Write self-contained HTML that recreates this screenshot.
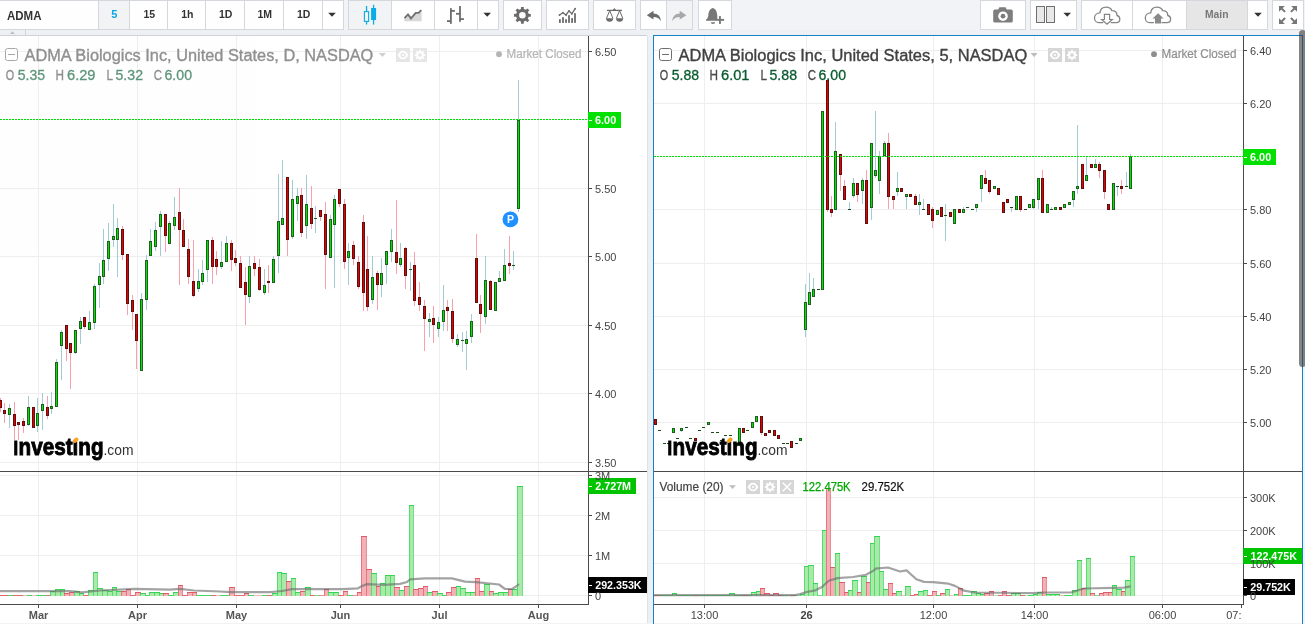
<!DOCTYPE html>
<html><head><meta charset="utf-8"><title>ADMA</title>
<style>
html,body{margin:0;padding:0;background:#f1f3f7;overflow:hidden}
body{width:1305px;height:624px;position:relative;font-family:"Liberation Sans",sans-serif}
svg{position:absolute;left:0;top:0;display:block;opacity:0.999;will-change:transform}
svg text{font-family:"Liberation Sans",sans-serif}
</style></head><body>
<svg width="1305" height="624" viewBox="0 0 1305 624" shape-rendering="crispEdges">
<rect x="0" y="0" width="1305" height="624" fill="#f1f3f7"/>
<rect x="0" y="36" width="647" height="587" fill="#fff"/>
<rect x="654" y="36" width="649" height="587" fill="#fff"/>
<rect x="647" y="36" width="6" height="587" fill="#eceff4"/>
<rect x="647" y="36" width="1" height="587" fill="#dde1e8"/>
<rect x="653" y="35" width="650" height="1" fill="#1581c4"/>
<rect x="653" y="35" width="1" height="589" fill="#1581c4"/>
<rect x="1302" y="35" width="1" height="589" fill="#1581c4"/>
<rect x="1303" y="35" width="2" height="589" fill="#f1f3f7"/>
<rect x="0" y="35" width="647" height="1" fill="#cdd2da"/>
<rect x="0" y="51" width="588" height="1" fill="#eeeeee"/>
<rect x="0" y="119" width="588" height="1" fill="#eeeeee"/>
<rect x="0" y="188" width="588" height="1" fill="#eeeeee"/>
<rect x="0" y="256" width="588" height="1" fill="#eeeeee"/>
<rect x="0" y="325" width="588" height="1" fill="#eeeeee"/>
<rect x="0" y="393" width="588" height="1" fill="#eeeeee"/>
<rect x="0" y="462" width="588" height="1" fill="#eeeeee"/>
<rect x="0" y="475" width="588" height="1" fill="#eeeeee"/>
<rect x="0" y="515" width="588" height="1" fill="#eeeeee"/>
<rect x="0" y="555" width="588" height="1" fill="#eeeeee"/>
<rect x="0" y="595" width="588" height="1" fill="#eeeeee"/>
<rect x="38" y="36" width="1" height="435" fill="#eeeeee"/>
<rect x="38" y="472" width="1" height="132" fill="#eeeeee"/>
<rect x="137" y="36" width="1" height="435" fill="#eeeeee"/>
<rect x="137" y="472" width="1" height="132" fill="#eeeeee"/>
<rect x="236" y="36" width="1" height="435" fill="#eeeeee"/>
<rect x="236" y="472" width="1" height="132" fill="#eeeeee"/>
<rect x="340" y="36" width="1" height="435" fill="#eeeeee"/>
<rect x="340" y="472" width="1" height="132" fill="#eeeeee"/>
<rect x="439" y="36" width="1" height="435" fill="#eeeeee"/>
<rect x="439" y="472" width="1" height="132" fill="#eeeeee"/>
<rect x="538" y="36" width="1" height="435" fill="#eeeeee"/>
<rect x="538" y="472" width="1" height="132" fill="#eeeeee"/>
<rect x="654" y="50" width="589" height="1" fill="#eeeeee"/>
<rect x="654" y="103" width="589" height="1" fill="#eeeeee"/>
<rect x="654" y="156" width="589" height="1" fill="#eeeeee"/>
<rect x="654" y="209" width="589" height="1" fill="#eeeeee"/>
<rect x="654" y="263" width="589" height="1" fill="#eeeeee"/>
<rect x="654" y="316" width="589" height="1" fill="#eeeeee"/>
<rect x="654" y="369" width="589" height="1" fill="#eeeeee"/>
<rect x="654" y="422" width="589" height="1" fill="#eeeeee"/>
<rect x="654" y="497" width="589" height="1" fill="#eeeeee"/>
<rect x="654" y="530" width="589" height="1" fill="#eeeeee"/>
<rect x="654" y="563" width="589" height="1" fill="#eeeeee"/>
<rect x="654" y="595" width="589" height="1" fill="#eeeeee"/>
<rect x="704" y="36" width="1" height="435" fill="#eeeeee"/>
<rect x="704" y="472" width="1" height="132" fill="#eeeeee"/>
<rect x="806" y="36" width="1" height="435" fill="#eeeeee"/>
<rect x="806" y="472" width="1" height="132" fill="#eeeeee"/>
<rect x="933" y="36" width="1" height="435" fill="#eeeeee"/>
<rect x="933" y="472" width="1" height="132" fill="#eeeeee"/>
<rect x="1034" y="36" width="1" height="435" fill="#eeeeee"/>
<rect x="1034" y="472" width="1" height="132" fill="#eeeeee"/>
<rect x="1162" y="36" width="1" height="435" fill="#eeeeee"/>
<rect x="1162" y="472" width="1" height="132" fill="#eeeeee"/>
<rect x="-2" y="595" width="6" height="1" fill="#de5c69" opacity="0.9"/>
<rect x="3" y="595" width="6" height="1" fill="#de5c69" opacity="0.9"/>
<rect x="8" y="595" width="6" height="1" fill="#35d455" opacity="0.9"/>
<rect x="13" y="595" width="5" height="1" fill="#de5c69" opacity="0.9"/>
<rect x="17" y="595" width="6" height="1" fill="#de5c69" opacity="0.9"/>
<rect x="22" y="595" width="6" height="1" fill="#de5c69" opacity="0.3"/>
<rect x="27" y="595" width="5" height="1" fill="#35d455" opacity="0.9"/>
<rect x="31" y="595" width="6" height="1" fill="#de5c69" opacity="0.3"/>
<rect x="36" y="595" width="6" height="1" fill="#35d455" opacity="0.9"/>
<rect x="41" y="595" width="6" height="1" fill="#35d455" opacity="0.9"/>
<rect x="46" y="595" width="5" height="1" fill="#de5c69" opacity="0.9"/>
<rect x="50" y="591" width="5" height="5" fill="#a9eaa9"/>
<rect x="50" y="591" width="6" height="1" fill="#35d455"/>
<rect x="50" y="591" width="1" height="5" fill="#35d455" opacity="0.7"/>
<rect x="55" y="591" width="1" height="5" fill="#35d455" opacity="0.7"/>
<rect x="55" y="589" width="5" height="7" fill="#a9eaa9"/>
<rect x="55" y="589" width="6" height="1" fill="#35d455"/>
<rect x="55" y="589" width="1" height="7" fill="#35d455" opacity="0.7"/>
<rect x="60" y="589" width="1" height="7" fill="#35d455" opacity="0.7"/>
<rect x="60" y="589" width="4" height="7" fill="#a9eaa9"/>
<rect x="60" y="589" width="5" height="1" fill="#35d455"/>
<rect x="60" y="589" width="1" height="7" fill="#35d455" opacity="0.7"/>
<rect x="64" y="589" width="1" height="7" fill="#35d455" opacity="0.7"/>
<rect x="64" y="593" width="5" height="3" fill="#f3b1b6"/>
<rect x="64" y="593" width="6" height="1" fill="#de5c69"/>
<rect x="64" y="593" width="1" height="3" fill="#de5c69" opacity="0.7"/>
<rect x="69" y="593" width="1" height="3" fill="#de5c69" opacity="0.7"/>
<rect x="69" y="592" width="5" height="4" fill="#f3b1b6"/>
<rect x="69" y="592" width="6" height="1" fill="#de5c69"/>
<rect x="69" y="592" width="1" height="4" fill="#de5c69" opacity="0.7"/>
<rect x="74" y="592" width="1" height="4" fill="#de5c69" opacity="0.7"/>
<rect x="74" y="591" width="5" height="5" fill="#a9eaa9"/>
<rect x="74" y="591" width="6" height="1" fill="#35d455"/>
<rect x="74" y="591" width="1" height="5" fill="#35d455" opacity="0.7"/>
<rect x="79" y="591" width="1" height="5" fill="#35d455" opacity="0.7"/>
<rect x="79" y="593" width="4" height="3" fill="#a9eaa9"/>
<rect x="79" y="593" width="5" height="1" fill="#35d455"/>
<rect x="79" y="593" width="1" height="3" fill="#35d455" opacity="0.7"/>
<rect x="83" y="593" width="1" height="3" fill="#35d455" opacity="0.7"/>
<rect x="83" y="595" width="6" height="1" fill="#de5c69" opacity="0.9"/>
<rect x="88" y="590" width="5" height="6" fill="#a9eaa9"/>
<rect x="88" y="590" width="6" height="1" fill="#35d455"/>
<rect x="88" y="590" width="1" height="6" fill="#35d455" opacity="0.7"/>
<rect x="93" y="590" width="1" height="6" fill="#35d455" opacity="0.7"/>
<rect x="93" y="572" width="4" height="24" fill="#a9eaa9"/>
<rect x="93" y="572" width="5" height="1" fill="#35d455"/>
<rect x="93" y="572" width="1" height="24" fill="#35d455" opacity="0.7"/>
<rect x="97" y="572" width="1" height="24" fill="#35d455" opacity="0.7"/>
<rect x="97" y="588" width="5" height="8" fill="#a9eaa9"/>
<rect x="97" y="588" width="6" height="1" fill="#35d455"/>
<rect x="97" y="588" width="1" height="8" fill="#35d455" opacity="0.7"/>
<rect x="102" y="588" width="1" height="8" fill="#35d455" opacity="0.7"/>
<rect x="102" y="590" width="5" height="6" fill="#a9eaa9"/>
<rect x="102" y="590" width="6" height="1" fill="#35d455"/>
<rect x="102" y="590" width="1" height="6" fill="#35d455" opacity="0.7"/>
<rect x="107" y="590" width="1" height="6" fill="#35d455" opacity="0.7"/>
<rect x="107" y="591" width="5" height="5" fill="#a9eaa9"/>
<rect x="107" y="591" width="6" height="1" fill="#35d455"/>
<rect x="107" y="591" width="1" height="5" fill="#35d455" opacity="0.7"/>
<rect x="112" y="591" width="1" height="5" fill="#35d455" opacity="0.7"/>
<rect x="112" y="587" width="4" height="9" fill="#a9eaa9"/>
<rect x="112" y="587" width="5" height="1" fill="#35d455"/>
<rect x="112" y="587" width="1" height="9" fill="#35d455" opacity="0.7"/>
<rect x="116" y="587" width="1" height="9" fill="#35d455" opacity="0.7"/>
<rect x="116" y="591" width="5" height="5" fill="#a9eaa9"/>
<rect x="116" y="591" width="6" height="1" fill="#35d455"/>
<rect x="116" y="591" width="1" height="5" fill="#35d455" opacity="0.7"/>
<rect x="121" y="591" width="1" height="5" fill="#35d455" opacity="0.7"/>
<rect x="121" y="591" width="5" height="5" fill="#f3b1b6"/>
<rect x="121" y="591" width="6" height="1" fill="#de5c69"/>
<rect x="121" y="591" width="1" height="5" fill="#de5c69" opacity="0.7"/>
<rect x="126" y="591" width="1" height="5" fill="#de5c69" opacity="0.7"/>
<rect x="126" y="589" width="4" height="7" fill="#f3b1b6"/>
<rect x="126" y="589" width="5" height="1" fill="#de5c69"/>
<rect x="126" y="589" width="1" height="7" fill="#de5c69" opacity="0.7"/>
<rect x="130" y="589" width="1" height="7" fill="#de5c69" opacity="0.7"/>
<rect x="130" y="595" width="6" height="1" fill="#de5c69" opacity="0.9"/>
<rect x="135" y="592" width="5" height="4" fill="#f3b1b6"/>
<rect x="135" y="592" width="6" height="1" fill="#de5c69"/>
<rect x="135" y="592" width="1" height="4" fill="#de5c69" opacity="0.7"/>
<rect x="140" y="592" width="1" height="4" fill="#de5c69" opacity="0.7"/>
<rect x="140" y="593" width="5" height="3" fill="#a9eaa9"/>
<rect x="140" y="593" width="6" height="1" fill="#35d455"/>
<rect x="140" y="593" width="1" height="3" fill="#35d455" opacity="0.7"/>
<rect x="145" y="593" width="1" height="3" fill="#35d455" opacity="0.7"/>
<rect x="145" y="595" width="5" height="1" fill="#35d455" opacity="0.9"/>
<rect x="149" y="592" width="5" height="4" fill="#a9eaa9"/>
<rect x="149" y="592" width="6" height="1" fill="#35d455"/>
<rect x="149" y="592" width="1" height="4" fill="#35d455" opacity="0.7"/>
<rect x="154" y="592" width="1" height="4" fill="#35d455" opacity="0.7"/>
<rect x="154" y="592" width="5" height="4" fill="#a9eaa9"/>
<rect x="154" y="592" width="6" height="1" fill="#35d455"/>
<rect x="154" y="592" width="1" height="4" fill="#35d455" opacity="0.7"/>
<rect x="159" y="592" width="1" height="4" fill="#35d455" opacity="0.7"/>
<rect x="159" y="593" width="4" height="3" fill="#a9eaa9"/>
<rect x="159" y="593" width="5" height="1" fill="#35d455"/>
<rect x="159" y="593" width="1" height="3" fill="#35d455" opacity="0.7"/>
<rect x="163" y="593" width="1" height="3" fill="#35d455" opacity="0.7"/>
<rect x="163" y="593" width="5" height="3" fill="#f3b1b6"/>
<rect x="163" y="593" width="6" height="1" fill="#de5c69"/>
<rect x="163" y="593" width="1" height="3" fill="#de5c69" opacity="0.7"/>
<rect x="168" y="593" width="1" height="3" fill="#de5c69" opacity="0.7"/>
<rect x="168" y="595" width="6" height="1" fill="#35d455" opacity="0.9"/>
<rect x="173" y="592" width="5" height="4" fill="#a9eaa9"/>
<rect x="173" y="592" width="6" height="1" fill="#35d455"/>
<rect x="173" y="592" width="1" height="4" fill="#35d455" opacity="0.7"/>
<rect x="178" y="592" width="1" height="4" fill="#35d455" opacity="0.7"/>
<rect x="178" y="585" width="4" height="11" fill="#f3b1b6"/>
<rect x="178" y="585" width="5" height="1" fill="#de5c69"/>
<rect x="178" y="585" width="1" height="11" fill="#de5c69" opacity="0.7"/>
<rect x="182" y="585" width="1" height="11" fill="#de5c69" opacity="0.7"/>
<rect x="182" y="595" width="6" height="1" fill="#de5c69" opacity="0.9"/>
<rect x="187" y="592" width="5" height="4" fill="#f3b1b6"/>
<rect x="187" y="592" width="6" height="1" fill="#de5c69"/>
<rect x="187" y="592" width="1" height="4" fill="#de5c69" opacity="0.7"/>
<rect x="192" y="592" width="1" height="4" fill="#de5c69" opacity="0.7"/>
<rect x="192" y="592" width="4" height="4" fill="#f3b1b6"/>
<rect x="192" y="592" width="5" height="1" fill="#de5c69"/>
<rect x="192" y="592" width="1" height="4" fill="#de5c69" opacity="0.7"/>
<rect x="196" y="592" width="1" height="4" fill="#de5c69" opacity="0.7"/>
<rect x="196" y="595" width="6" height="1" fill="#35d455" opacity="0.9"/>
<rect x="201" y="595" width="6" height="1" fill="#35d455" opacity="0.9"/>
<rect x="206" y="595" width="6" height="1" fill="#35d455" opacity="0.9"/>
<rect x="211" y="595" width="5" height="1" fill="#de5c69" opacity="0.9"/>
<rect x="215" y="595" width="6" height="1" fill="#de5c69" opacity="0.3"/>
<rect x="220" y="595" width="6" height="1" fill="#35d455" opacity="0.9"/>
<rect x="225" y="595" width="5" height="1" fill="#35d455" opacity="0.9"/>
<rect x="229" y="587" width="5" height="9" fill="#f3b1b6"/>
<rect x="229" y="587" width="6" height="1" fill="#de5c69"/>
<rect x="229" y="587" width="1" height="9" fill="#de5c69" opacity="0.7"/>
<rect x="234" y="587" width="1" height="9" fill="#de5c69" opacity="0.7"/>
<rect x="234" y="595" width="6" height="1" fill="#de5c69" opacity="0.9"/>
<rect x="239" y="595" width="6" height="1" fill="#de5c69" opacity="0.9"/>
<rect x="244" y="593" width="4" height="3" fill="#f3b1b6"/>
<rect x="244" y="593" width="5" height="1" fill="#de5c69"/>
<rect x="244" y="593" width="1" height="3" fill="#de5c69" opacity="0.7"/>
<rect x="248" y="593" width="1" height="3" fill="#de5c69" opacity="0.7"/>
<rect x="248" y="595" width="6" height="1" fill="#35d455" opacity="0.9"/>
<rect x="253" y="595" width="6" height="1" fill="#de5c69" opacity="0.3"/>
<rect x="258" y="595" width="5" height="1" fill="#de5c69" opacity="0.3"/>
<rect x="262" y="595" width="6" height="1" fill="#35d455" opacity="0.9"/>
<rect x="267" y="595" width="6" height="1" fill="#de5c69" opacity="0.9"/>
<rect x="272" y="593" width="5" height="3" fill="#a9eaa9"/>
<rect x="272" y="593" width="6" height="1" fill="#35d455"/>
<rect x="272" y="593" width="1" height="3" fill="#35d455" opacity="0.7"/>
<rect x="277" y="593" width="1" height="3" fill="#35d455" opacity="0.7"/>
<rect x="277" y="572" width="4" height="24" fill="#a9eaa9"/>
<rect x="277" y="572" width="5" height="1" fill="#35d455"/>
<rect x="277" y="572" width="1" height="24" fill="#35d455" opacity="0.7"/>
<rect x="281" y="572" width="1" height="24" fill="#35d455" opacity="0.7"/>
<rect x="281" y="573" width="5" height="23" fill="#a9eaa9"/>
<rect x="281" y="573" width="6" height="1" fill="#35d455"/>
<rect x="281" y="573" width="1" height="23" fill="#35d455" opacity="0.7"/>
<rect x="286" y="573" width="1" height="23" fill="#35d455" opacity="0.7"/>
<rect x="286" y="581" width="5" height="15" fill="#f3b1b6"/>
<rect x="286" y="581" width="6" height="1" fill="#de5c69"/>
<rect x="286" y="581" width="1" height="15" fill="#de5c69" opacity="0.7"/>
<rect x="291" y="581" width="1" height="15" fill="#de5c69" opacity="0.7"/>
<rect x="291" y="578" width="4" height="18" fill="#a9eaa9"/>
<rect x="291" y="578" width="5" height="1" fill="#35d455"/>
<rect x="291" y="578" width="1" height="18" fill="#35d455" opacity="0.7"/>
<rect x="295" y="578" width="1" height="18" fill="#35d455" opacity="0.7"/>
<rect x="295" y="592" width="5" height="4" fill="#a9eaa9"/>
<rect x="295" y="592" width="6" height="1" fill="#35d455"/>
<rect x="295" y="592" width="1" height="4" fill="#35d455" opacity="0.7"/>
<rect x="300" y="592" width="1" height="4" fill="#35d455" opacity="0.7"/>
<rect x="300" y="591" width="5" height="5" fill="#f3b1b6"/>
<rect x="300" y="591" width="6" height="1" fill="#de5c69"/>
<rect x="300" y="591" width="1" height="5" fill="#de5c69" opacity="0.7"/>
<rect x="305" y="591" width="1" height="5" fill="#de5c69" opacity="0.7"/>
<rect x="305" y="587" width="5" height="9" fill="#a9eaa9"/>
<rect x="305" y="587" width="6" height="1" fill="#35d455"/>
<rect x="305" y="587" width="1" height="9" fill="#35d455" opacity="0.7"/>
<rect x="310" y="587" width="1" height="9" fill="#35d455" opacity="0.7"/>
<rect x="310" y="595" width="5" height="1" fill="#de5c69" opacity="0.9"/>
<rect x="314" y="595" width="6" height="1" fill="#35d455" opacity="0.6"/>
<rect x="319" y="595" width="6" height="1" fill="#de5c69" opacity="0.6"/>
<rect x="324" y="589" width="4" height="7" fill="#f3b1b6"/>
<rect x="324" y="589" width="5" height="1" fill="#de5c69"/>
<rect x="324" y="589" width="1" height="7" fill="#de5c69" opacity="0.7"/>
<rect x="328" y="589" width="1" height="7" fill="#de5c69" opacity="0.7"/>
<rect x="328" y="592" width="5" height="4" fill="#a9eaa9"/>
<rect x="328" y="592" width="6" height="1" fill="#35d455"/>
<rect x="328" y="592" width="1" height="4" fill="#35d455" opacity="0.7"/>
<rect x="333" y="592" width="1" height="4" fill="#35d455" opacity="0.7"/>
<rect x="333" y="592" width="5" height="4" fill="#a9eaa9"/>
<rect x="333" y="592" width="6" height="1" fill="#35d455"/>
<rect x="333" y="592" width="1" height="4" fill="#35d455" opacity="0.7"/>
<rect x="338" y="592" width="1" height="4" fill="#35d455" opacity="0.7"/>
<rect x="338" y="595" width="6" height="1" fill="#de5c69" opacity="0.9"/>
<rect x="343" y="591" width="4" height="5" fill="#f3b1b6"/>
<rect x="343" y="591" width="5" height="1" fill="#de5c69"/>
<rect x="343" y="591" width="1" height="5" fill="#de5c69" opacity="0.7"/>
<rect x="347" y="591" width="1" height="5" fill="#de5c69" opacity="0.7"/>
<rect x="347" y="595" width="6" height="1" fill="#35d455" opacity="0.9"/>
<rect x="352" y="595" width="6" height="1" fill="#de5c69" opacity="0.6"/>
<rect x="357" y="592" width="4" height="4" fill="#f3b1b6"/>
<rect x="357" y="592" width="5" height="1" fill="#de5c69"/>
<rect x="357" y="592" width="1" height="4" fill="#de5c69" opacity="0.7"/>
<rect x="361" y="592" width="1" height="4" fill="#de5c69" opacity="0.7"/>
<rect x="361" y="536" width="5" height="60" fill="#f3b1b6"/>
<rect x="361" y="536" width="6" height="1" fill="#de5c69"/>
<rect x="361" y="536" width="1" height="60" fill="#de5c69" opacity="0.7"/>
<rect x="366" y="536" width="1" height="60" fill="#de5c69" opacity="0.7"/>
<rect x="366" y="569" width="5" height="27" fill="#f3b1b6"/>
<rect x="366" y="569" width="6" height="1" fill="#de5c69"/>
<rect x="366" y="569" width="1" height="27" fill="#de5c69" opacity="0.7"/>
<rect x="371" y="569" width="1" height="27" fill="#de5c69" opacity="0.7"/>
<rect x="371" y="573" width="5" height="23" fill="#a9eaa9"/>
<rect x="371" y="573" width="6" height="1" fill="#35d455"/>
<rect x="371" y="573" width="1" height="23" fill="#35d455" opacity="0.7"/>
<rect x="376" y="573" width="1" height="23" fill="#35d455" opacity="0.7"/>
<rect x="376" y="586" width="4" height="10" fill="#f3b1b6"/>
<rect x="376" y="586" width="5" height="1" fill="#de5c69"/>
<rect x="376" y="586" width="1" height="10" fill="#de5c69" opacity="0.7"/>
<rect x="380" y="586" width="1" height="10" fill="#de5c69" opacity="0.7"/>
<rect x="380" y="583" width="5" height="13" fill="#a9eaa9"/>
<rect x="380" y="583" width="6" height="1" fill="#35d455"/>
<rect x="380" y="583" width="1" height="13" fill="#35d455" opacity="0.7"/>
<rect x="385" y="583" width="1" height="13" fill="#35d455" opacity="0.7"/>
<rect x="385" y="575" width="5" height="21" fill="#a9eaa9"/>
<rect x="385" y="575" width="6" height="1" fill="#35d455"/>
<rect x="385" y="575" width="1" height="21" fill="#35d455" opacity="0.7"/>
<rect x="390" y="575" width="1" height="21" fill="#35d455" opacity="0.7"/>
<rect x="390" y="575" width="4" height="21" fill="#a9eaa9"/>
<rect x="390" y="575" width="5" height="1" fill="#35d455"/>
<rect x="390" y="575" width="1" height="21" fill="#35d455" opacity="0.7"/>
<rect x="394" y="575" width="1" height="21" fill="#35d455" opacity="0.7"/>
<rect x="394" y="587" width="5" height="9" fill="#f3b1b6"/>
<rect x="394" y="587" width="6" height="1" fill="#de5c69"/>
<rect x="394" y="587" width="1" height="9" fill="#de5c69" opacity="0.7"/>
<rect x="399" y="587" width="1" height="9" fill="#de5c69" opacity="0.7"/>
<rect x="399" y="590" width="5" height="6" fill="#a9eaa9"/>
<rect x="399" y="590" width="6" height="1" fill="#35d455"/>
<rect x="399" y="590" width="1" height="6" fill="#35d455" opacity="0.7"/>
<rect x="404" y="590" width="1" height="6" fill="#35d455" opacity="0.7"/>
<rect x="404" y="586" width="5" height="10" fill="#f3b1b6"/>
<rect x="404" y="586" width="6" height="1" fill="#de5c69"/>
<rect x="404" y="586" width="1" height="10" fill="#de5c69" opacity="0.7"/>
<rect x="409" y="586" width="1" height="10" fill="#de5c69" opacity="0.7"/>
<rect x="409" y="505" width="4" height="91" fill="#a9eaa9"/>
<rect x="409" y="505" width="5" height="1" fill="#35d455"/>
<rect x="409" y="505" width="1" height="91" fill="#35d455" opacity="0.7"/>
<rect x="413" y="505" width="1" height="91" fill="#35d455" opacity="0.7"/>
<rect x="413" y="589" width="5" height="7" fill="#f3b1b6"/>
<rect x="413" y="589" width="6" height="1" fill="#de5c69"/>
<rect x="413" y="589" width="1" height="7" fill="#de5c69" opacity="0.7"/>
<rect x="418" y="589" width="1" height="7" fill="#de5c69" opacity="0.7"/>
<rect x="418" y="588" width="5" height="8" fill="#f3b1b6"/>
<rect x="418" y="588" width="6" height="1" fill="#de5c69"/>
<rect x="418" y="588" width="1" height="8" fill="#de5c69" opacity="0.7"/>
<rect x="423" y="588" width="1" height="8" fill="#de5c69" opacity="0.7"/>
<rect x="423" y="586" width="4" height="10" fill="#f3b1b6"/>
<rect x="423" y="586" width="5" height="1" fill="#de5c69"/>
<rect x="423" y="586" width="1" height="10" fill="#de5c69" opacity="0.7"/>
<rect x="427" y="586" width="1" height="10" fill="#de5c69" opacity="0.7"/>
<rect x="427" y="592" width="5" height="4" fill="#a9eaa9"/>
<rect x="427" y="592" width="6" height="1" fill="#35d455"/>
<rect x="427" y="592" width="1" height="4" fill="#35d455" opacity="0.7"/>
<rect x="432" y="592" width="1" height="4" fill="#35d455" opacity="0.7"/>
<rect x="432" y="591" width="5" height="5" fill="#f3b1b6"/>
<rect x="432" y="591" width="6" height="1" fill="#de5c69"/>
<rect x="432" y="591" width="1" height="5" fill="#de5c69" opacity="0.7"/>
<rect x="437" y="591" width="1" height="5" fill="#de5c69" opacity="0.7"/>
<rect x="437" y="593" width="5" height="3" fill="#a9eaa9"/>
<rect x="437" y="593" width="6" height="1" fill="#35d455"/>
<rect x="437" y="593" width="1" height="3" fill="#35d455" opacity="0.7"/>
<rect x="442" y="593" width="1" height="3" fill="#35d455" opacity="0.7"/>
<rect x="442" y="595" width="5" height="1" fill="#35d455" opacity="0.9"/>
<rect x="446" y="592" width="5" height="4" fill="#f3b1b6"/>
<rect x="446" y="592" width="6" height="1" fill="#de5c69"/>
<rect x="446" y="592" width="1" height="4" fill="#de5c69" opacity="0.7"/>
<rect x="451" y="592" width="1" height="4" fill="#de5c69" opacity="0.7"/>
<rect x="451" y="587" width="5" height="9" fill="#f3b1b6"/>
<rect x="451" y="587" width="6" height="1" fill="#de5c69"/>
<rect x="451" y="587" width="1" height="9" fill="#de5c69" opacity="0.7"/>
<rect x="456" y="587" width="1" height="9" fill="#de5c69" opacity="0.7"/>
<rect x="456" y="586" width="4" height="10" fill="#a9eaa9"/>
<rect x="456" y="586" width="5" height="1" fill="#35d455"/>
<rect x="456" y="586" width="1" height="10" fill="#35d455" opacity="0.7"/>
<rect x="460" y="586" width="1" height="10" fill="#35d455" opacity="0.7"/>
<rect x="460" y="588" width="5" height="8" fill="#a9eaa9"/>
<rect x="460" y="588" width="6" height="1" fill="#35d455"/>
<rect x="460" y="588" width="1" height="8" fill="#35d455" opacity="0.7"/>
<rect x="465" y="588" width="1" height="8" fill="#35d455" opacity="0.7"/>
<rect x="465" y="592" width="5" height="4" fill="#a9eaa9"/>
<rect x="465" y="592" width="6" height="1" fill="#35d455"/>
<rect x="465" y="592" width="1" height="4" fill="#35d455" opacity="0.7"/>
<rect x="470" y="592" width="1" height="4" fill="#35d455" opacity="0.7"/>
<rect x="470" y="592" width="5" height="4" fill="#a9eaa9"/>
<rect x="470" y="592" width="6" height="1" fill="#35d455"/>
<rect x="470" y="592" width="1" height="4" fill="#35d455" opacity="0.7"/>
<rect x="475" y="592" width="1" height="4" fill="#35d455" opacity="0.7"/>
<rect x="475" y="578" width="4" height="18" fill="#f3b1b6"/>
<rect x="475" y="578" width="5" height="1" fill="#de5c69"/>
<rect x="475" y="578" width="1" height="18" fill="#de5c69" opacity="0.7"/>
<rect x="479" y="578" width="1" height="18" fill="#de5c69" opacity="0.7"/>
<rect x="479" y="591" width="5" height="5" fill="#f3b1b6"/>
<rect x="479" y="591" width="6" height="1" fill="#de5c69"/>
<rect x="479" y="591" width="1" height="5" fill="#de5c69" opacity="0.7"/>
<rect x="484" y="591" width="1" height="5" fill="#de5c69" opacity="0.7"/>
<rect x="484" y="584" width="5" height="12" fill="#a9eaa9"/>
<rect x="484" y="584" width="6" height="1" fill="#35d455"/>
<rect x="484" y="584" width="1" height="12" fill="#35d455" opacity="0.7"/>
<rect x="489" y="584" width="1" height="12" fill="#35d455" opacity="0.7"/>
<rect x="489" y="591" width="4" height="5" fill="#f3b1b6"/>
<rect x="489" y="591" width="5" height="1" fill="#de5c69"/>
<rect x="489" y="591" width="1" height="5" fill="#de5c69" opacity="0.7"/>
<rect x="493" y="591" width="1" height="5" fill="#de5c69" opacity="0.7"/>
<rect x="493" y="593" width="5" height="3" fill="#a9eaa9"/>
<rect x="493" y="593" width="6" height="1" fill="#35d455"/>
<rect x="493" y="593" width="1" height="3" fill="#35d455" opacity="0.7"/>
<rect x="498" y="593" width="1" height="3" fill="#35d455" opacity="0.7"/>
<rect x="498" y="592" width="5" height="4" fill="#a9eaa9"/>
<rect x="498" y="592" width="6" height="1" fill="#35d455"/>
<rect x="498" y="592" width="1" height="4" fill="#35d455" opacity="0.7"/>
<rect x="503" y="592" width="1" height="4" fill="#35d455" opacity="0.7"/>
<rect x="503" y="592" width="5" height="4" fill="#a9eaa9"/>
<rect x="503" y="592" width="6" height="1" fill="#35d455"/>
<rect x="503" y="592" width="1" height="4" fill="#35d455" opacity="0.7"/>
<rect x="508" y="592" width="1" height="4" fill="#35d455" opacity="0.7"/>
<rect x="508" y="589" width="4" height="7" fill="#f3b1b6"/>
<rect x="508" y="589" width="5" height="1" fill="#de5c69"/>
<rect x="508" y="589" width="1" height="7" fill="#de5c69" opacity="0.7"/>
<rect x="512" y="589" width="1" height="7" fill="#de5c69" opacity="0.7"/>
<rect x="512" y="589" width="5" height="7" fill="#a9eaa9"/>
<rect x="512" y="589" width="6" height="1" fill="#35d455"/>
<rect x="512" y="589" width="1" height="7" fill="#35d455" opacity="0.7"/>
<rect x="517" y="589" width="1" height="7" fill="#35d455" opacity="0.7"/>
<rect x="517" y="486" width="5" height="110" fill="#a9eaa9"/>
<rect x="517" y="486" width="6" height="1" fill="#35d455"/>
<rect x="517" y="486" width="1" height="110" fill="#35d455" opacity="0.7"/>
<rect x="522" y="486" width="1" height="110" fill="#35d455" opacity="0.7"/>
<polyline points="0,591.1 70,591.1 82,592.3 100,590.5 135,588.9 170,589.6 180,588.9 194,590.5 220,591.5 230,592.2 270,592.2 282,591 292,589.1 343,589.1 358,588.3 362,586 367,584.1 384,584.9 400,583.9 407,582 410,579.4 425,578.4 452,578.4 465,581.6 476,582.2 499,584.5 505,589 512,589 516,586.5 519,584" fill="none" stroke="#6b6b6b" stroke-opacity="0.62" stroke-width="2.2" stroke-linejoin="round" shape-rendering="geometricPrecision"/>
<rect x="0" y="398" width="1" height="14" fill="#f7a1ad"/>
<rect x="-1" y="400" width="3" height="8" fill="#5e1010"/>
<rect x="0" y="401" width="1" height="6" fill="#e60000"/>
<rect x="4" y="403" width="1" height="20" fill="#f7a1ad"/>
<rect x="3" y="410" width="3" height="4" fill="#5e1010"/>
<rect x="4" y="411" width="1" height="2" fill="#e60000"/>
<rect x="9" y="404" width="1" height="24" fill="#a3cbd3"/>
<rect x="8" y="408" width="3" height="7" fill="#1f5f1f"/>
<rect x="9" y="409" width="1" height="5" fill="#00e400"/>
<rect x="14" y="402" width="1" height="38" fill="#f7a1ad"/>
<rect x="13" y="414" width="3" height="12" fill="#5e1010"/>
<rect x="14" y="415" width="1" height="10" fill="#e60000"/>
<rect x="18" y="422" width="1" height="18" fill="#f7a1ad"/>
<rect x="17" y="422" width="3" height="3" fill="#5e1010"/>
<rect x="18" y="423" width="1" height="1" fill="#e60000"/>
<rect x="23" y="418" width="1" height="15" fill="#f7a1ad"/>
<rect x="22" y="421" width="3" height="5" fill="#5e1010"/>
<rect x="23" y="422" width="1" height="3" fill="#e60000"/>
<rect x="28" y="396" width="1" height="30" fill="#a3cbd3"/>
<rect x="27" y="407" width="3" height="18" fill="#1f5f1f"/>
<rect x="28" y="408" width="1" height="16" fill="#00e400"/>
<rect x="33" y="407" width="1" height="21" fill="#f7a1ad"/>
<rect x="32" y="407" width="3" height="21" fill="#5e1010"/>
<rect x="33" y="408" width="1" height="19" fill="#e60000"/>
<rect x="37" y="398" width="1" height="34" fill="#a3cbd3"/>
<rect x="36" y="413" width="3" height="13" fill="#1f5f1f"/>
<rect x="37" y="414" width="1" height="11" fill="#00e400"/>
<rect x="42" y="393" width="1" height="37" fill="#a3cbd3"/>
<rect x="41" y="404" width="3" height="7" fill="#1f5f1f"/>
<rect x="42" y="405" width="1" height="5" fill="#00e400"/>
<rect x="47" y="396" width="1" height="23" fill="#f7a1ad"/>
<rect x="46" y="407" width="3" height="9" fill="#5e1010"/>
<rect x="47" y="408" width="1" height="7" fill="#e60000"/>
<rect x="51" y="392" width="1" height="22" fill="#a3cbd3"/>
<rect x="50" y="406" width="3" height="3" fill="#1f5f1f"/>
<rect x="51" y="407" width="1" height="1" fill="#00e400"/>
<rect x="56" y="359" width="1" height="48" fill="#a3cbd3"/>
<rect x="55" y="362" width="3" height="45" fill="#1f5f1f"/>
<rect x="56" y="363" width="1" height="43" fill="#00e400"/>
<rect x="61" y="330" width="1" height="50" fill="#a3cbd3"/>
<rect x="60" y="332" width="3" height="14" fill="#1f5f1f"/>
<rect x="61" y="333" width="1" height="12" fill="#00e400"/>
<rect x="66" y="325" width="1" height="36" fill="#f7a1ad"/>
<rect x="65" y="325" width="3" height="24" fill="#5e1010"/>
<rect x="66" y="326" width="1" height="22" fill="#e60000"/>
<rect x="70" y="343" width="1" height="46" fill="#f7a1ad"/>
<rect x="69" y="343" width="3" height="10" fill="#5e1010"/>
<rect x="70" y="344" width="1" height="8" fill="#e60000"/>
<rect x="75" y="330" width="1" height="24" fill="#a3cbd3"/>
<rect x="74" y="330" width="3" height="23" fill="#1f5f1f"/>
<rect x="75" y="331" width="1" height="21" fill="#00e400"/>
<rect x="80" y="317" width="1" height="27" fill="#a3cbd3"/>
<rect x="79" y="321" width="3" height="8" fill="#1f5f1f"/>
<rect x="80" y="322" width="1" height="6" fill="#00e400"/>
<rect x="84" y="317" width="1" height="12" fill="#f7a1ad"/>
<rect x="83" y="317" width="3" height="10" fill="#5e1010"/>
<rect x="84" y="318" width="1" height="8" fill="#e60000"/>
<rect x="89" y="311" width="1" height="19" fill="#a3cbd3"/>
<rect x="88" y="322" width="3" height="8" fill="#1f5f1f"/>
<rect x="89" y="323" width="1" height="6" fill="#00e400"/>
<rect x="94" y="284" width="1" height="45" fill="#a3cbd3"/>
<rect x="93" y="286" width="3" height="37" fill="#1f5f1f"/>
<rect x="94" y="287" width="1" height="35" fill="#00e400"/>
<rect x="99" y="263" width="1" height="45" fill="#a3cbd3"/>
<rect x="98" y="276" width="3" height="9" fill="#1f5f1f"/>
<rect x="99" y="277" width="1" height="7" fill="#00e400"/>
<rect x="103" y="229" width="1" height="55" fill="#a3cbd3"/>
<rect x="102" y="260" width="3" height="17" fill="#1f5f1f"/>
<rect x="103" y="261" width="1" height="15" fill="#00e400"/>
<rect x="108" y="223" width="1" height="48" fill="#a3cbd3"/>
<rect x="107" y="241" width="3" height="18" fill="#1f5f1f"/>
<rect x="108" y="242" width="1" height="16" fill="#00e400"/>
<rect x="113" y="204" width="1" height="43" fill="#a3cbd3"/>
<rect x="112" y="236" width="3" height="4" fill="#1f5f1f"/>
<rect x="113" y="237" width="1" height="2" fill="#00e400"/>
<rect x="117" y="218" width="1" height="59" fill="#a3cbd3"/>
<rect x="116" y="228" width="3" height="12" fill="#1f5f1f"/>
<rect x="117" y="229" width="1" height="10" fill="#00e400"/>
<rect x="122" y="226" width="1" height="34" fill="#f7a1ad"/>
<rect x="121" y="229" width="3" height="26" fill="#5e1010"/>
<rect x="122" y="230" width="1" height="24" fill="#e60000"/>
<rect x="127" y="254" width="1" height="61" fill="#f7a1ad"/>
<rect x="126" y="254" width="3" height="50" fill="#5e1010"/>
<rect x="127" y="255" width="1" height="48" fill="#e60000"/>
<rect x="132" y="295" width="1" height="35" fill="#f7a1ad"/>
<rect x="131" y="300" width="3" height="12" fill="#5e1010"/>
<rect x="132" y="301" width="1" height="10" fill="#e60000"/>
<rect x="136" y="314" width="1" height="55" fill="#f7a1ad"/>
<rect x="135" y="314" width="3" height="27" fill="#5e1010"/>
<rect x="136" y="315" width="1" height="25" fill="#e60000"/>
<rect x="141" y="293" width="1" height="78" fill="#a3cbd3"/>
<rect x="140" y="299" width="3" height="72" fill="#1f5f1f"/>
<rect x="141" y="300" width="1" height="70" fill="#00e400"/>
<rect x="146" y="255" width="1" height="55" fill="#a3cbd3"/>
<rect x="145" y="260" width="3" height="40" fill="#1f5f1f"/>
<rect x="146" y="261" width="1" height="38" fill="#00e400"/>
<rect x="150" y="229" width="1" height="27" fill="#a3cbd3"/>
<rect x="149" y="241" width="3" height="15" fill="#1f5f1f"/>
<rect x="150" y="242" width="1" height="13" fill="#00e400"/>
<rect x="155" y="222" width="1" height="29" fill="#a3cbd3"/>
<rect x="154" y="230" width="3" height="17" fill="#1f5f1f"/>
<rect x="155" y="231" width="1" height="15" fill="#00e400"/>
<rect x="160" y="211" width="1" height="45" fill="#a3cbd3"/>
<rect x="159" y="214" width="3" height="13" fill="#1f5f1f"/>
<rect x="160" y="215" width="1" height="11" fill="#00e400"/>
<rect x="165" y="214" width="1" height="38" fill="#f7a1ad"/>
<rect x="164" y="214" width="3" height="22" fill="#5e1010"/>
<rect x="165" y="215" width="1" height="20" fill="#e60000"/>
<rect x="169" y="221" width="1" height="23" fill="#a3cbd3"/>
<rect x="168" y="223" width="3" height="21" fill="#1f5f1f"/>
<rect x="169" y="224" width="1" height="19" fill="#00e400"/>
<rect x="174" y="197" width="1" height="33" fill="#a3cbd3"/>
<rect x="173" y="217" width="3" height="9" fill="#1f5f1f"/>
<rect x="174" y="218" width="1" height="7" fill="#00e400"/>
<rect x="179" y="188" width="1" height="97" fill="#f7a1ad"/>
<rect x="178" y="212" width="3" height="18" fill="#5e1010"/>
<rect x="179" y="213" width="1" height="16" fill="#e60000"/>
<rect x="183" y="219" width="1" height="28" fill="#f7a1ad"/>
<rect x="182" y="230" width="3" height="17" fill="#5e1010"/>
<rect x="183" y="231" width="1" height="15" fill="#e60000"/>
<rect x="188" y="239" width="1" height="45" fill="#f7a1ad"/>
<rect x="187" y="249" width="3" height="28" fill="#5e1010"/>
<rect x="188" y="250" width="1" height="26" fill="#e60000"/>
<rect x="193" y="240" width="1" height="57" fill="#f7a1ad"/>
<rect x="192" y="281" width="3" height="15" fill="#5e1010"/>
<rect x="193" y="282" width="1" height="13" fill="#e60000"/>
<rect x="198" y="269" width="1" height="23" fill="#a3cbd3"/>
<rect x="197" y="281" width="3" height="8" fill="#1f5f1f"/>
<rect x="198" y="282" width="1" height="6" fill="#00e400"/>
<rect x="202" y="260" width="1" height="25" fill="#a3cbd3"/>
<rect x="201" y="273" width="3" height="9" fill="#1f5f1f"/>
<rect x="202" y="274" width="1" height="7" fill="#00e400"/>
<rect x="207" y="240" width="1" height="42" fill="#a3cbd3"/>
<rect x="206" y="240" width="3" height="30" fill="#1f5f1f"/>
<rect x="207" y="241" width="1" height="28" fill="#00e400"/>
<rect x="212" y="237" width="1" height="47" fill="#f7a1ad"/>
<rect x="211" y="240" width="3" height="27" fill="#5e1010"/>
<rect x="212" y="241" width="1" height="25" fill="#e60000"/>
<rect x="216" y="251" width="1" height="24" fill="#f7a1ad"/>
<rect x="215" y="259" width="3" height="8" fill="#5e1010"/>
<rect x="216" y="260" width="1" height="6" fill="#e60000"/>
<rect x="221" y="241" width="1" height="28" fill="#a3cbd3"/>
<rect x="220" y="262" width="3" height="5" fill="#1f5f1f"/>
<rect x="221" y="263" width="1" height="3" fill="#00e400"/>
<rect x="226" y="236" width="1" height="26" fill="#a3cbd3"/>
<rect x="225" y="243" width="3" height="19" fill="#1f5f1f"/>
<rect x="226" y="244" width="1" height="17" fill="#00e400"/>
<rect x="231" y="240" width="1" height="31" fill="#f7a1ad"/>
<rect x="230" y="243" width="3" height="17" fill="#5e1010"/>
<rect x="231" y="244" width="1" height="15" fill="#e60000"/>
<rect x="235" y="250" width="1" height="16" fill="#f7a1ad"/>
<rect x="234" y="258" width="3" height="5" fill="#5e1010"/>
<rect x="235" y="259" width="1" height="3" fill="#e60000"/>
<rect x="240" y="256" width="1" height="32" fill="#f7a1ad"/>
<rect x="239" y="263" width="3" height="25" fill="#5e1010"/>
<rect x="240" y="264" width="1" height="23" fill="#e60000"/>
<rect x="245" y="267" width="1" height="58" fill="#f7a1ad"/>
<rect x="244" y="282" width="3" height="13" fill="#5e1010"/>
<rect x="245" y="283" width="1" height="11" fill="#e60000"/>
<rect x="249" y="256" width="1" height="47" fill="#a3cbd3"/>
<rect x="248" y="266" width="3" height="31" fill="#1f5f1f"/>
<rect x="249" y="267" width="1" height="29" fill="#00e400"/>
<rect x="254" y="256" width="1" height="20" fill="#f7a1ad"/>
<rect x="253" y="263" width="3" height="6" fill="#5e1010"/>
<rect x="254" y="264" width="1" height="4" fill="#e60000"/>
<rect x="259" y="259" width="1" height="32" fill="#f7a1ad"/>
<rect x="258" y="267" width="3" height="23" fill="#5e1010"/>
<rect x="259" y="268" width="1" height="21" fill="#e60000"/>
<rect x="264" y="269" width="1" height="26" fill="#a3cbd3"/>
<rect x="263" y="285" width="3" height="8" fill="#1f5f1f"/>
<rect x="264" y="286" width="1" height="6" fill="#00e400"/>
<rect x="268" y="265" width="1" height="28" fill="#f7a1ad"/>
<rect x="267" y="281" width="3" height="2" fill="#5e1010"/>
<rect x="273" y="256" width="1" height="27" fill="#a3cbd3"/>
<rect x="272" y="259" width="3" height="24" fill="#1f5f1f"/>
<rect x="273" y="260" width="1" height="22" fill="#00e400"/>
<rect x="278" y="174" width="1" height="99" fill="#a3cbd3"/>
<rect x="277" y="221" width="3" height="35" fill="#1f5f1f"/>
<rect x="278" y="222" width="1" height="33" fill="#00e400"/>
<rect x="282" y="160" width="1" height="65" fill="#a3cbd3"/>
<rect x="281" y="218" width="3" height="7" fill="#1f5f1f"/>
<rect x="282" y="219" width="1" height="5" fill="#00e400"/>
<rect x="287" y="177" width="1" height="79" fill="#f7a1ad"/>
<rect x="286" y="177" width="3" height="63" fill="#5e1010"/>
<rect x="287" y="178" width="1" height="61" fill="#e60000"/>
<rect x="292" y="180" width="1" height="59" fill="#a3cbd3"/>
<rect x="291" y="199" width="3" height="38" fill="#1f5f1f"/>
<rect x="292" y="200" width="1" height="36" fill="#00e400"/>
<rect x="297" y="188" width="1" height="33" fill="#a3cbd3"/>
<rect x="296" y="196" width="3" height="8" fill="#1f5f1f"/>
<rect x="297" y="197" width="1" height="6" fill="#00e400"/>
<rect x="301" y="188" width="1" height="49" fill="#f7a1ad"/>
<rect x="300" y="195" width="3" height="38" fill="#5e1010"/>
<rect x="301" y="196" width="1" height="36" fill="#e60000"/>
<rect x="306" y="175" width="1" height="64" fill="#a3cbd3"/>
<rect x="305" y="204" width="3" height="22" fill="#1f5f1f"/>
<rect x="306" y="205" width="1" height="20" fill="#00e400"/>
<rect x="311" y="186" width="1" height="43" fill="#f7a1ad"/>
<rect x="310" y="208" width="3" height="16" fill="#5e1010"/>
<rect x="311" y="209" width="1" height="14" fill="#e60000"/>
<rect x="315" y="206" width="1" height="27" fill="#a3cbd3"/>
<rect x="314" y="218" width="3" height="1" fill="#1f5f1f"/>
<rect x="320" y="210" width="1" height="11" fill="#f7a1ad"/>
<rect x="319" y="210" width="3" height="7" fill="#5e1010"/>
<rect x="320" y="211" width="1" height="5" fill="#e60000"/>
<rect x="325" y="202" width="1" height="87" fill="#f7a1ad"/>
<rect x="324" y="214" width="3" height="41" fill="#5e1010"/>
<rect x="325" y="215" width="1" height="39" fill="#e60000"/>
<rect x="330" y="215" width="1" height="43" fill="#a3cbd3"/>
<rect x="329" y="219" width="3" height="39" fill="#1f5f1f"/>
<rect x="330" y="220" width="1" height="37" fill="#00e400"/>
<rect x="334" y="195" width="1" height="93" fill="#a3cbd3"/>
<rect x="333" y="199" width="3" height="26" fill="#1f5f1f"/>
<rect x="334" y="200" width="1" height="24" fill="#00e400"/>
<rect x="339" y="189" width="1" height="18" fill="#f7a1ad"/>
<rect x="338" y="189" width="3" height="15" fill="#5e1010"/>
<rect x="339" y="190" width="1" height="13" fill="#e60000"/>
<rect x="344" y="199" width="1" height="70" fill="#f7a1ad"/>
<rect x="343" y="204" width="3" height="58" fill="#5e1010"/>
<rect x="344" y="205" width="1" height="56" fill="#e60000"/>
<rect x="348" y="243" width="1" height="42" fill="#a3cbd3"/>
<rect x="347" y="251" width="3" height="7" fill="#1f5f1f"/>
<rect x="348" y="252" width="1" height="5" fill="#00e400"/>
<rect x="353" y="241" width="1" height="24" fill="#f7a1ad"/>
<rect x="352" y="245" width="3" height="14" fill="#5e1010"/>
<rect x="353" y="246" width="1" height="12" fill="#e60000"/>
<rect x="358" y="256" width="1" height="33" fill="#f7a1ad"/>
<rect x="357" y="262" width="3" height="25" fill="#5e1010"/>
<rect x="358" y="263" width="1" height="23" fill="#e60000"/>
<rect x="363" y="215" width="1" height="96" fill="#f7a1ad"/>
<rect x="362" y="222" width="3" height="71" fill="#5e1010"/>
<rect x="363" y="223" width="1" height="69" fill="#e60000"/>
<rect x="367" y="236" width="1" height="75" fill="#f7a1ad"/>
<rect x="366" y="269" width="3" height="38" fill="#5e1010"/>
<rect x="367" y="270" width="1" height="36" fill="#e60000"/>
<rect x="372" y="256" width="1" height="48" fill="#a3cbd3"/>
<rect x="371" y="277" width="3" height="23" fill="#1f5f1f"/>
<rect x="372" y="278" width="1" height="21" fill="#00e400"/>
<rect x="377" y="271" width="1" height="39" fill="#f7a1ad"/>
<rect x="376" y="273" width="3" height="12" fill="#5e1010"/>
<rect x="377" y="274" width="1" height="10" fill="#e60000"/>
<rect x="381" y="258" width="1" height="39" fill="#a3cbd3"/>
<rect x="380" y="273" width="3" height="12" fill="#1f5f1f"/>
<rect x="381" y="274" width="1" height="10" fill="#00e400"/>
<rect x="386" y="251" width="1" height="33" fill="#a3cbd3"/>
<rect x="385" y="251" width="3" height="14" fill="#1f5f1f"/>
<rect x="386" y="252" width="1" height="12" fill="#00e400"/>
<rect x="391" y="229" width="1" height="33" fill="#a3cbd3"/>
<rect x="390" y="240" width="3" height="12" fill="#1f5f1f"/>
<rect x="391" y="241" width="1" height="10" fill="#00e400"/>
<rect x="396" y="200" width="1" height="74" fill="#f7a1ad"/>
<rect x="395" y="252" width="3" height="11" fill="#5e1010"/>
<rect x="396" y="253" width="1" height="9" fill="#e60000"/>
<rect x="400" y="243" width="1" height="24" fill="#a3cbd3"/>
<rect x="399" y="258" width="3" height="7" fill="#1f5f1f"/>
<rect x="400" y="259" width="1" height="5" fill="#00e400"/>
<rect x="405" y="247" width="1" height="42" fill="#f7a1ad"/>
<rect x="404" y="248" width="3" height="28" fill="#5e1010"/>
<rect x="405" y="249" width="1" height="26" fill="#e60000"/>
<rect x="410" y="262" width="1" height="29" fill="#a3cbd3"/>
<rect x="409" y="269" width="3" height="1" fill="#1f5f1f"/>
<rect x="414" y="252" width="1" height="54" fill="#f7a1ad"/>
<rect x="413" y="265" width="3" height="36" fill="#5e1010"/>
<rect x="414" y="266" width="1" height="34" fill="#e60000"/>
<rect x="419" y="282" width="1" height="29" fill="#f7a1ad"/>
<rect x="418" y="297" width="3" height="8" fill="#5e1010"/>
<rect x="419" y="298" width="1" height="6" fill="#e60000"/>
<rect x="424" y="300" width="1" height="51" fill="#f7a1ad"/>
<rect x="423" y="306" width="3" height="13" fill="#5e1010"/>
<rect x="424" y="307" width="1" height="11" fill="#e60000"/>
<rect x="429" y="313" width="1" height="24" fill="#a3cbd3"/>
<rect x="428" y="319" width="3" height="3" fill="#1f5f1f"/>
<rect x="429" y="320" width="1" height="1" fill="#00e400"/>
<rect x="433" y="306" width="1" height="37" fill="#f7a1ad"/>
<rect x="432" y="318" width="3" height="7" fill="#5e1010"/>
<rect x="433" y="319" width="1" height="5" fill="#e60000"/>
<rect x="438" y="317" width="1" height="20" fill="#a3cbd3"/>
<rect x="437" y="322" width="3" height="7" fill="#1f5f1f"/>
<rect x="438" y="323" width="1" height="5" fill="#00e400"/>
<rect x="443" y="285" width="1" height="46" fill="#a3cbd3"/>
<rect x="442" y="310" width="3" height="12" fill="#1f5f1f"/>
<rect x="443" y="311" width="1" height="10" fill="#00e400"/>
<rect x="447" y="300" width="1" height="31" fill="#f7a1ad"/>
<rect x="446" y="307" width="3" height="4" fill="#5e1010"/>
<rect x="447" y="308" width="1" height="2" fill="#e60000"/>
<rect x="452" y="299" width="1" height="44" fill="#f7a1ad"/>
<rect x="451" y="311" width="3" height="28" fill="#5e1010"/>
<rect x="452" y="312" width="1" height="26" fill="#e60000"/>
<rect x="457" y="334" width="1" height="13" fill="#a3cbd3"/>
<rect x="456" y="339" width="3" height="6" fill="#1f5f1f"/>
<rect x="457" y="340" width="1" height="4" fill="#00e400"/>
<rect x="462" y="332" width="1" height="20" fill="#a3cbd3"/>
<rect x="461" y="340" width="3" height="1" fill="#1f5f1f"/>
<rect x="466" y="331" width="1" height="39" fill="#a3cbd3"/>
<rect x="465" y="339" width="3" height="5" fill="#1f5f1f"/>
<rect x="466" y="340" width="1" height="3" fill="#00e400"/>
<rect x="471" y="314" width="1" height="29" fill="#a3cbd3"/>
<rect x="470" y="321" width="3" height="16" fill="#1f5f1f"/>
<rect x="471" y="322" width="1" height="14" fill="#00e400"/>
<rect x="476" y="234" width="1" height="69" fill="#f7a1ad"/>
<rect x="475" y="258" width="3" height="45" fill="#5e1010"/>
<rect x="476" y="259" width="1" height="43" fill="#e60000"/>
<rect x="480" y="295" width="1" height="38" fill="#f7a1ad"/>
<rect x="479" y="304" width="3" height="10" fill="#5e1010"/>
<rect x="480" y="305" width="1" height="8" fill="#e60000"/>
<rect x="485" y="256" width="1" height="68" fill="#a3cbd3"/>
<rect x="484" y="280" width="3" height="37" fill="#1f5f1f"/>
<rect x="485" y="281" width="1" height="35" fill="#00e400"/>
<rect x="490" y="280" width="1" height="30" fill="#f7a1ad"/>
<rect x="489" y="281" width="3" height="29" fill="#5e1010"/>
<rect x="490" y="282" width="1" height="27" fill="#e60000"/>
<rect x="495" y="282" width="1" height="29" fill="#a3cbd3"/>
<rect x="494" y="282" width="3" height="29" fill="#1f5f1f"/>
<rect x="495" y="283" width="1" height="27" fill="#00e400"/>
<rect x="499" y="271" width="1" height="11" fill="#a3cbd3"/>
<rect x="498" y="278" width="3" height="4" fill="#1f5f1f"/>
<rect x="499" y="279" width="1" height="2" fill="#00e400"/>
<rect x="504" y="249" width="1" height="32" fill="#a3cbd3"/>
<rect x="503" y="265" width="3" height="16" fill="#1f5f1f"/>
<rect x="504" y="266" width="1" height="14" fill="#00e400"/>
<rect x="509" y="236" width="1" height="38" fill="#f7a1ad"/>
<rect x="508" y="263" width="3" height="3" fill="#5e1010"/>
<rect x="509" y="264" width="1" height="1" fill="#e60000"/>
<rect x="513" y="251" width="1" height="19" fill="#a3cbd3"/>
<rect x="512" y="265" width="3" height="1" fill="#1f5f1f"/>
<rect x="518" y="80" width="1" height="132" fill="#a3cbd3"/>
<rect x="517" y="120" width="3" height="89" fill="#1f5f1f"/>
<rect x="518" y="121" width="1" height="87" fill="#00e400"/>
<line x1="0" y1="119.5" x2="588" y2="119.5" stroke="#00e000" stroke-width="1" stroke-dasharray="2 1"/>
<rect x="654" y="595" width="6" height="1" fill="#de5c69" opacity="0.9"/>
<rect x="659" y="595" width="5" height="1" fill="#35d455" opacity="0.9"/>
<rect x="663" y="595" width="6" height="1" fill="#35d455" opacity="0.9"/>
<rect x="668" y="595" width="5" height="1" fill="#35d455" opacity="0.9"/>
<rect x="672" y="593" width="4" height="3" fill="#a9eaa9"/>
<rect x="672" y="593" width="5" height="1" fill="#35d455"/>
<rect x="672" y="593" width="1" height="3" fill="#35d455" opacity="0.7"/>
<rect x="676" y="593" width="1" height="3" fill="#35d455" opacity="0.7"/>
<rect x="676" y="595" width="6" height="1" fill="#35d455" opacity="0.9"/>
<rect x="681" y="595" width="5" height="1" fill="#35d455" opacity="0.9"/>
<rect x="685" y="595" width="6" height="1" fill="#35d455" opacity="0.9"/>
<rect x="690" y="595" width="5" height="1" fill="#35d455" opacity="0.9"/>
<rect x="694" y="595" width="5" height="1" fill="#de5c69" opacity="0.9"/>
<rect x="698" y="595" width="6" height="1" fill="#35d455" opacity="0.9"/>
<rect x="703" y="595" width="5" height="1" fill="#35d455" opacity="0.9"/>
<rect x="707" y="595" width="6" height="1" fill="#35d455" opacity="0.9"/>
<rect x="712" y="595" width="5" height="1" fill="#35d455" opacity="0.9"/>
<rect x="716" y="595" width="5" height="1" fill="#35d455" opacity="0.9"/>
<rect x="720" y="595" width="6" height="1" fill="#35d455" opacity="0.9"/>
<rect x="725" y="595" width="5" height="1" fill="#35d455" opacity="0.9"/>
<rect x="729" y="593" width="5" height="3" fill="#a9eaa9"/>
<rect x="729" y="593" width="6" height="1" fill="#35d455"/>
<rect x="729" y="593" width="1" height="3" fill="#35d455" opacity="0.7"/>
<rect x="734" y="593" width="1" height="3" fill="#35d455" opacity="0.7"/>
<rect x="734" y="595" width="5" height="1" fill="#35d455" opacity="0.9"/>
<rect x="738" y="595" width="5" height="1" fill="#35d455" opacity="0.9"/>
<rect x="742" y="595" width="6" height="1" fill="#de5c69" opacity="0.9"/>
<rect x="747" y="595" width="5" height="1" fill="#35d455" opacity="0.9"/>
<rect x="751" y="592" width="5" height="4" fill="#a9eaa9"/>
<rect x="751" y="592" width="6" height="1" fill="#35d455"/>
<rect x="751" y="592" width="1" height="4" fill="#35d455" opacity="0.7"/>
<rect x="756" y="592" width="1" height="4" fill="#35d455" opacity="0.7"/>
<rect x="756" y="591" width="4" height="5" fill="#a9eaa9"/>
<rect x="756" y="591" width="5" height="1" fill="#35d455"/>
<rect x="756" y="591" width="1" height="5" fill="#35d455" opacity="0.7"/>
<rect x="760" y="591" width="1" height="5" fill="#35d455" opacity="0.7"/>
<rect x="760" y="588" width="4" height="8" fill="#f3b1b6"/>
<rect x="760" y="588" width="5" height="1" fill="#de5c69"/>
<rect x="760" y="588" width="1" height="8" fill="#de5c69" opacity="0.7"/>
<rect x="764" y="588" width="1" height="8" fill="#de5c69" opacity="0.7"/>
<rect x="764" y="593" width="5" height="3" fill="#f3b1b6"/>
<rect x="764" y="593" width="6" height="1" fill="#de5c69"/>
<rect x="764" y="593" width="1" height="3" fill="#de5c69" opacity="0.7"/>
<rect x="769" y="593" width="1" height="3" fill="#de5c69" opacity="0.7"/>
<rect x="769" y="595" width="5" height="1" fill="#de5c69" opacity="0.9"/>
<rect x="773" y="593" width="5" height="3" fill="#f3b1b6"/>
<rect x="773" y="593" width="6" height="1" fill="#de5c69"/>
<rect x="773" y="593" width="1" height="3" fill="#de5c69" opacity="0.7"/>
<rect x="778" y="593" width="1" height="3" fill="#de5c69" opacity="0.7"/>
<rect x="778" y="595" width="5" height="1" fill="#de5c69" opacity="0.9"/>
<rect x="782" y="595" width="5" height="1" fill="#35d455" opacity="0.6"/>
<rect x="786" y="595" width="6" height="1" fill="#35d455" opacity="0.6"/>
<rect x="791" y="595" width="5" height="1" fill="#de5c69" opacity="0.9"/>
<rect x="795" y="595" width="6" height="1" fill="#35d455" opacity="0.6"/>
<rect x="800" y="594" width="4" height="2" fill="#a9eaa9"/>
<rect x="800" y="594" width="5" height="1" fill="#35d455"/>
<rect x="800" y="594" width="1" height="2" fill="#35d455" opacity="0.7"/>
<rect x="804" y="594" width="1" height="2" fill="#35d455" opacity="0.7"/>
<rect x="804" y="566" width="4" height="30" fill="#a9eaa9"/>
<rect x="804" y="566" width="5" height="1" fill="#35d455"/>
<rect x="804" y="566" width="1" height="30" fill="#35d455" opacity="0.7"/>
<rect x="808" y="566" width="1" height="30" fill="#35d455" opacity="0.7"/>
<rect x="808" y="565" width="5" height="31" fill="#a9eaa9"/>
<rect x="808" y="565" width="6" height="1" fill="#35d455"/>
<rect x="808" y="565" width="1" height="31" fill="#35d455" opacity="0.7"/>
<rect x="813" y="565" width="1" height="31" fill="#35d455" opacity="0.7"/>
<rect x="813" y="583" width="4" height="13" fill="#a9eaa9"/>
<rect x="813" y="583" width="5" height="1" fill="#35d455"/>
<rect x="813" y="583" width="1" height="13" fill="#35d455" opacity="0.7"/>
<rect x="817" y="583" width="1" height="13" fill="#35d455" opacity="0.7"/>
<rect x="817" y="595" width="6" height="1" fill="#35d455" opacity="0.6"/>
<rect x="822" y="530" width="4" height="66" fill="#a9eaa9"/>
<rect x="822" y="530" width="5" height="1" fill="#35d455"/>
<rect x="822" y="530" width="1" height="66" fill="#35d455" opacity="0.7"/>
<rect x="826" y="530" width="1" height="66" fill="#35d455" opacity="0.7"/>
<rect x="826" y="488" width="4" height="108" fill="#f3b1b6"/>
<rect x="826" y="488" width="5" height="1" fill="#de5c69"/>
<rect x="826" y="488" width="1" height="108" fill="#de5c69" opacity="0.7"/>
<rect x="830" y="488" width="1" height="108" fill="#de5c69" opacity="0.7"/>
<rect x="830" y="567" width="5" height="29" fill="#f3b1b6"/>
<rect x="830" y="567" width="6" height="1" fill="#de5c69"/>
<rect x="830" y="567" width="1" height="29" fill="#de5c69" opacity="0.7"/>
<rect x="835" y="567" width="1" height="29" fill="#de5c69" opacity="0.7"/>
<rect x="835" y="553" width="4" height="43" fill="#a9eaa9"/>
<rect x="835" y="553" width="5" height="1" fill="#35d455"/>
<rect x="835" y="553" width="1" height="43" fill="#35d455" opacity="0.7"/>
<rect x="839" y="553" width="1" height="43" fill="#35d455" opacity="0.7"/>
<rect x="839" y="582" width="5" height="14" fill="#f3b1b6"/>
<rect x="839" y="582" width="6" height="1" fill="#de5c69"/>
<rect x="839" y="582" width="1" height="14" fill="#de5c69" opacity="0.7"/>
<rect x="844" y="582" width="1" height="14" fill="#de5c69" opacity="0.7"/>
<rect x="844" y="592" width="4" height="4" fill="#f3b1b6"/>
<rect x="844" y="592" width="5" height="1" fill="#de5c69"/>
<rect x="844" y="592" width="1" height="4" fill="#de5c69" opacity="0.7"/>
<rect x="848" y="592" width="1" height="4" fill="#de5c69" opacity="0.7"/>
<rect x="848" y="590" width="4" height="6" fill="#a9eaa9"/>
<rect x="848" y="590" width="5" height="1" fill="#35d455"/>
<rect x="848" y="590" width="1" height="6" fill="#35d455" opacity="0.7"/>
<rect x="852" y="590" width="1" height="6" fill="#35d455" opacity="0.7"/>
<rect x="852" y="580" width="5" height="16" fill="#a9eaa9"/>
<rect x="852" y="580" width="6" height="1" fill="#35d455"/>
<rect x="852" y="580" width="1" height="16" fill="#35d455" opacity="0.7"/>
<rect x="857" y="580" width="1" height="16" fill="#35d455" opacity="0.7"/>
<rect x="857" y="592" width="4" height="4" fill="#f3b1b6"/>
<rect x="857" y="592" width="5" height="1" fill="#de5c69"/>
<rect x="857" y="592" width="1" height="4" fill="#de5c69" opacity="0.7"/>
<rect x="861" y="592" width="1" height="4" fill="#de5c69" opacity="0.7"/>
<rect x="861" y="576" width="5" height="20" fill="#a9eaa9"/>
<rect x="861" y="576" width="6" height="1" fill="#35d455"/>
<rect x="861" y="576" width="1" height="20" fill="#35d455" opacity="0.7"/>
<rect x="866" y="576" width="1" height="20" fill="#35d455" opacity="0.7"/>
<rect x="866" y="582" width="4" height="14" fill="#f3b1b6"/>
<rect x="866" y="582" width="5" height="1" fill="#de5c69"/>
<rect x="866" y="582" width="1" height="14" fill="#de5c69" opacity="0.7"/>
<rect x="870" y="582" width="1" height="14" fill="#de5c69" opacity="0.7"/>
<rect x="870" y="543" width="4" height="53" fill="#a9eaa9"/>
<rect x="870" y="543" width="5" height="1" fill="#35d455"/>
<rect x="870" y="543" width="1" height="53" fill="#35d455" opacity="0.7"/>
<rect x="874" y="543" width="1" height="53" fill="#35d455" opacity="0.7"/>
<rect x="874" y="536" width="5" height="60" fill="#a9eaa9"/>
<rect x="874" y="536" width="6" height="1" fill="#35d455"/>
<rect x="874" y="536" width="1" height="60" fill="#35d455" opacity="0.7"/>
<rect x="879" y="536" width="1" height="60" fill="#35d455" opacity="0.7"/>
<rect x="879" y="571" width="4" height="25" fill="#a9eaa9"/>
<rect x="879" y="571" width="5" height="1" fill="#35d455"/>
<rect x="879" y="571" width="1" height="25" fill="#35d455" opacity="0.7"/>
<rect x="883" y="571" width="1" height="25" fill="#35d455" opacity="0.7"/>
<rect x="883" y="589" width="5" height="7" fill="#a9eaa9"/>
<rect x="883" y="589" width="6" height="1" fill="#35d455"/>
<rect x="883" y="589" width="1" height="7" fill="#35d455" opacity="0.7"/>
<rect x="888" y="589" width="1" height="7" fill="#35d455" opacity="0.7"/>
<rect x="888" y="583" width="4" height="13" fill="#f3b1b6"/>
<rect x="888" y="583" width="5" height="1" fill="#de5c69"/>
<rect x="888" y="583" width="1" height="13" fill="#de5c69" opacity="0.7"/>
<rect x="892" y="583" width="1" height="13" fill="#de5c69" opacity="0.7"/>
<rect x="892" y="593" width="4" height="3" fill="#f3b1b6"/>
<rect x="892" y="593" width="5" height="1" fill="#de5c69"/>
<rect x="892" y="593" width="1" height="3" fill="#de5c69" opacity="0.7"/>
<rect x="896" y="593" width="1" height="3" fill="#de5c69" opacity="0.7"/>
<rect x="896" y="591" width="5" height="5" fill="#a9eaa9"/>
<rect x="896" y="591" width="6" height="1" fill="#35d455"/>
<rect x="896" y="591" width="1" height="5" fill="#35d455" opacity="0.7"/>
<rect x="901" y="591" width="1" height="5" fill="#35d455" opacity="0.7"/>
<rect x="901" y="595" width="5" height="1" fill="#de5c69" opacity="0.3"/>
<rect x="905" y="586" width="5" height="10" fill="#a9eaa9"/>
<rect x="905" y="586" width="6" height="1" fill="#35d455"/>
<rect x="905" y="586" width="1" height="10" fill="#35d455" opacity="0.7"/>
<rect x="910" y="586" width="1" height="10" fill="#35d455" opacity="0.7"/>
<rect x="910" y="595" width="5" height="1" fill="#de5c69" opacity="0.9"/>
<rect x="914" y="594" width="4" height="2" fill="#f3b1b6"/>
<rect x="914" y="594" width="5" height="1" fill="#de5c69"/>
<rect x="914" y="594" width="1" height="2" fill="#de5c69" opacity="0.7"/>
<rect x="918" y="594" width="1" height="2" fill="#de5c69" opacity="0.7"/>
<rect x="918" y="591" width="5" height="5" fill="#a9eaa9"/>
<rect x="918" y="591" width="6" height="1" fill="#35d455"/>
<rect x="918" y="591" width="1" height="5" fill="#35d455" opacity="0.7"/>
<rect x="923" y="591" width="1" height="5" fill="#35d455" opacity="0.7"/>
<rect x="923" y="590" width="4" height="6" fill="#a9eaa9"/>
<rect x="923" y="590" width="5" height="1" fill="#35d455"/>
<rect x="923" y="590" width="1" height="6" fill="#35d455" opacity="0.7"/>
<rect x="927" y="590" width="1" height="6" fill="#35d455" opacity="0.7"/>
<rect x="927" y="595" width="6" height="1" fill="#de5c69" opacity="0.9"/>
<rect x="932" y="591" width="4" height="5" fill="#f3b1b6"/>
<rect x="932" y="591" width="5" height="1" fill="#de5c69"/>
<rect x="932" y="591" width="1" height="5" fill="#de5c69" opacity="0.7"/>
<rect x="936" y="591" width="1" height="5" fill="#de5c69" opacity="0.7"/>
<rect x="936" y="595" width="5" height="1" fill="#35d455" opacity="0.9"/>
<rect x="940" y="593" width="5" height="3" fill="#f3b1b6"/>
<rect x="940" y="593" width="6" height="1" fill="#de5c69"/>
<rect x="940" y="593" width="1" height="3" fill="#de5c69" opacity="0.7"/>
<rect x="945" y="593" width="1" height="3" fill="#de5c69" opacity="0.7"/>
<rect x="945" y="589" width="4" height="7" fill="#a9eaa9"/>
<rect x="945" y="589" width="5" height="1" fill="#35d455"/>
<rect x="945" y="589" width="1" height="7" fill="#35d455" opacity="0.7"/>
<rect x="949" y="589" width="1" height="7" fill="#35d455" opacity="0.7"/>
<rect x="949" y="595" width="6" height="1" fill="#de5c69" opacity="0.3"/>
<rect x="954" y="594" width="4" height="2" fill="#a9eaa9"/>
<rect x="954" y="594" width="5" height="1" fill="#35d455"/>
<rect x="954" y="594" width="1" height="2" fill="#35d455" opacity="0.7"/>
<rect x="958" y="594" width="1" height="2" fill="#35d455" opacity="0.7"/>
<rect x="958" y="588" width="4" height="8" fill="#f3b1b6"/>
<rect x="958" y="588" width="5" height="1" fill="#de5c69"/>
<rect x="958" y="588" width="1" height="8" fill="#de5c69" opacity="0.7"/>
<rect x="962" y="588" width="1" height="8" fill="#de5c69" opacity="0.7"/>
<rect x="962" y="595" width="6" height="1" fill="#35d455" opacity="0.9"/>
<rect x="967" y="595" width="5" height="1" fill="#35d455" opacity="0.9"/>
<rect x="971" y="591" width="5" height="5" fill="#a9eaa9"/>
<rect x="971" y="591" width="6" height="1" fill="#35d455"/>
<rect x="971" y="591" width="1" height="5" fill="#35d455" opacity="0.7"/>
<rect x="976" y="591" width="1" height="5" fill="#35d455" opacity="0.7"/>
<rect x="976" y="593" width="4" height="3" fill="#a9eaa9"/>
<rect x="976" y="593" width="5" height="1" fill="#35d455"/>
<rect x="976" y="593" width="1" height="3" fill="#35d455" opacity="0.7"/>
<rect x="980" y="593" width="1" height="3" fill="#35d455" opacity="0.7"/>
<rect x="980" y="594" width="4" height="2" fill="#a9eaa9"/>
<rect x="980" y="594" width="5" height="1" fill="#35d455"/>
<rect x="980" y="594" width="1" height="2" fill="#35d455" opacity="0.7"/>
<rect x="984" y="594" width="1" height="2" fill="#35d455" opacity="0.7"/>
<rect x="984" y="593" width="5" height="3" fill="#f3b1b6"/>
<rect x="984" y="593" width="6" height="1" fill="#de5c69"/>
<rect x="984" y="593" width="1" height="3" fill="#de5c69" opacity="0.7"/>
<rect x="989" y="593" width="1" height="3" fill="#de5c69" opacity="0.7"/>
<rect x="989" y="591" width="4" height="5" fill="#f3b1b6"/>
<rect x="989" y="591" width="5" height="1" fill="#de5c69"/>
<rect x="989" y="591" width="1" height="5" fill="#de5c69" opacity="0.7"/>
<rect x="993" y="591" width="1" height="5" fill="#de5c69" opacity="0.7"/>
<rect x="993" y="595" width="6" height="1" fill="#35d455" opacity="0.3"/>
<rect x="998" y="595" width="5" height="1" fill="#de5c69" opacity="0.9"/>
<rect x="1002" y="591" width="4" height="5" fill="#f3b1b6"/>
<rect x="1002" y="591" width="5" height="1" fill="#de5c69"/>
<rect x="1002" y="591" width="1" height="5" fill="#de5c69" opacity="0.7"/>
<rect x="1006" y="591" width="1" height="5" fill="#de5c69" opacity="0.7"/>
<rect x="1006" y="595" width="6" height="1" fill="#de5c69" opacity="0.9"/>
<rect x="1011" y="593" width="4" height="3" fill="#a9eaa9"/>
<rect x="1011" y="593" width="5" height="1" fill="#35d455"/>
<rect x="1011" y="593" width="1" height="3" fill="#35d455" opacity="0.7"/>
<rect x="1015" y="593" width="1" height="3" fill="#35d455" opacity="0.7"/>
<rect x="1015" y="593" width="5" height="3" fill="#a9eaa9"/>
<rect x="1015" y="593" width="6" height="1" fill="#35d455"/>
<rect x="1015" y="593" width="1" height="3" fill="#35d455" opacity="0.7"/>
<rect x="1020" y="593" width="1" height="3" fill="#35d455" opacity="0.7"/>
<rect x="1020" y="595" width="5" height="1" fill="#de5c69" opacity="0.9"/>
<rect x="1024" y="595" width="5" height="1" fill="#35d455" opacity="0.3"/>
<rect x="1028" y="595" width="6" height="1" fill="#35d455" opacity="0.9"/>
<rect x="1033" y="594" width="4" height="2" fill="#a9eaa9"/>
<rect x="1033" y="594" width="5" height="1" fill="#35d455"/>
<rect x="1033" y="594" width="1" height="2" fill="#35d455" opacity="0.7"/>
<rect x="1037" y="594" width="1" height="2" fill="#35d455" opacity="0.7"/>
<rect x="1037" y="592" width="5" height="4" fill="#a9eaa9"/>
<rect x="1037" y="592" width="6" height="1" fill="#35d455"/>
<rect x="1037" y="592" width="1" height="4" fill="#35d455" opacity="0.7"/>
<rect x="1042" y="592" width="1" height="4" fill="#35d455" opacity="0.7"/>
<rect x="1042" y="577" width="4" height="19" fill="#f3b1b6"/>
<rect x="1042" y="577" width="5" height="1" fill="#de5c69"/>
<rect x="1042" y="577" width="1" height="19" fill="#de5c69" opacity="0.7"/>
<rect x="1046" y="577" width="1" height="19" fill="#de5c69" opacity="0.7"/>
<rect x="1046" y="594" width="4" height="2" fill="#a9eaa9"/>
<rect x="1046" y="594" width="5" height="1" fill="#35d455"/>
<rect x="1046" y="594" width="1" height="2" fill="#35d455" opacity="0.7"/>
<rect x="1050" y="594" width="1" height="2" fill="#35d455" opacity="0.7"/>
<rect x="1050" y="594" width="5" height="2" fill="#a9eaa9"/>
<rect x="1050" y="594" width="6" height="1" fill="#35d455"/>
<rect x="1050" y="594" width="1" height="2" fill="#35d455" opacity="0.7"/>
<rect x="1055" y="594" width="1" height="2" fill="#35d455" opacity="0.7"/>
<rect x="1055" y="594" width="4" height="2" fill="#a9eaa9"/>
<rect x="1055" y="594" width="5" height="1" fill="#35d455"/>
<rect x="1055" y="594" width="1" height="2" fill="#35d455" opacity="0.7"/>
<rect x="1059" y="594" width="1" height="2" fill="#35d455" opacity="0.7"/>
<rect x="1059" y="595" width="6" height="1" fill="#de5c69" opacity="0.3"/>
<rect x="1064" y="595" width="5" height="1" fill="#35d455" opacity="0.9"/>
<rect x="1068" y="595" width="5" height="1" fill="#35d455" opacity="0.9"/>
<rect x="1072" y="590" width="5" height="6" fill="#a9eaa9"/>
<rect x="1072" y="590" width="6" height="1" fill="#35d455"/>
<rect x="1072" y="590" width="1" height="6" fill="#35d455" opacity="0.7"/>
<rect x="1077" y="590" width="1" height="6" fill="#35d455" opacity="0.7"/>
<rect x="1077" y="560" width="4" height="36" fill="#a9eaa9"/>
<rect x="1077" y="560" width="5" height="1" fill="#35d455"/>
<rect x="1077" y="560" width="1" height="36" fill="#35d455" opacity="0.7"/>
<rect x="1081" y="560" width="1" height="36" fill="#35d455" opacity="0.7"/>
<rect x="1081" y="588" width="5" height="8" fill="#f3b1b6"/>
<rect x="1081" y="588" width="6" height="1" fill="#de5c69"/>
<rect x="1081" y="588" width="1" height="8" fill="#de5c69" opacity="0.7"/>
<rect x="1086" y="588" width="1" height="8" fill="#de5c69" opacity="0.7"/>
<rect x="1086" y="558" width="4" height="38" fill="#a9eaa9"/>
<rect x="1086" y="558" width="5" height="1" fill="#35d455"/>
<rect x="1086" y="558" width="1" height="38" fill="#35d455" opacity="0.7"/>
<rect x="1090" y="558" width="1" height="38" fill="#35d455" opacity="0.7"/>
<rect x="1090" y="593" width="4" height="3" fill="#f3b1b6"/>
<rect x="1090" y="593" width="5" height="1" fill="#de5c69"/>
<rect x="1090" y="593" width="1" height="3" fill="#de5c69" opacity="0.7"/>
<rect x="1094" y="593" width="1" height="3" fill="#de5c69" opacity="0.7"/>
<rect x="1094" y="595" width="6" height="1" fill="#35d455" opacity="0.6"/>
<rect x="1099" y="593" width="4" height="3" fill="#f3b1b6"/>
<rect x="1099" y="593" width="5" height="1" fill="#de5c69"/>
<rect x="1099" y="593" width="1" height="3" fill="#de5c69" opacity="0.7"/>
<rect x="1103" y="593" width="1" height="3" fill="#de5c69" opacity="0.7"/>
<rect x="1103" y="592" width="5" height="4" fill="#f3b1b6"/>
<rect x="1103" y="592" width="6" height="1" fill="#de5c69"/>
<rect x="1103" y="592" width="1" height="4" fill="#de5c69" opacity="0.7"/>
<rect x="1108" y="592" width="1" height="4" fill="#de5c69" opacity="0.7"/>
<rect x="1108" y="592" width="4" height="4" fill="#f3b1b6"/>
<rect x="1108" y="592" width="5" height="1" fill="#de5c69"/>
<rect x="1108" y="592" width="1" height="4" fill="#de5c69" opacity="0.7"/>
<rect x="1112" y="592" width="1" height="4" fill="#de5c69" opacity="0.7"/>
<rect x="1112" y="585" width="4" height="11" fill="#a9eaa9"/>
<rect x="1112" y="585" width="5" height="1" fill="#35d455"/>
<rect x="1112" y="585" width="1" height="11" fill="#35d455" opacity="0.7"/>
<rect x="1116" y="585" width="1" height="11" fill="#35d455" opacity="0.7"/>
<rect x="1116" y="589" width="5" height="7" fill="#a9eaa9"/>
<rect x="1116" y="589" width="6" height="1" fill="#35d455"/>
<rect x="1116" y="589" width="1" height="7" fill="#35d455" opacity="0.7"/>
<rect x="1121" y="589" width="1" height="7" fill="#35d455" opacity="0.7"/>
<rect x="1121" y="591" width="4" height="5" fill="#f3b1b6"/>
<rect x="1121" y="591" width="5" height="1" fill="#de5c69"/>
<rect x="1121" y="591" width="1" height="5" fill="#de5c69" opacity="0.7"/>
<rect x="1125" y="591" width="1" height="5" fill="#de5c69" opacity="0.7"/>
<rect x="1125" y="580" width="5" height="16" fill="#a9eaa9"/>
<rect x="1125" y="580" width="6" height="1" fill="#35d455"/>
<rect x="1125" y="580" width="1" height="16" fill="#35d455" opacity="0.7"/>
<rect x="1130" y="580" width="1" height="16" fill="#35d455" opacity="0.7"/>
<rect x="1130" y="556" width="4" height="40" fill="#a9eaa9"/>
<rect x="1130" y="556" width="5" height="1" fill="#35d455"/>
<rect x="1130" y="556" width="1" height="40" fill="#35d455" opacity="0.7"/>
<rect x="1134" y="556" width="1" height="40" fill="#35d455" opacity="0.7"/>
<polyline points="654,595.1 795,595.1 800,594 806.5,592 815.4,590.3 822,587 828.7,580.8 837.5,578.1 853,577 866,574.8 874,570.4 875.5,568.6 888,567.5 900,571.5 906.5,570.4 916.4,579.2 924,581.9 933,582.1 948.5,583.7 955,585.9 964,590.7 975,592.5 1032.5,593.2 1043.5,592.5 1071,592.5 1084,588.5 1124,587.6 1130.6,586.3" fill="none" stroke="#6b6b6b" stroke-opacity="0.62" stroke-width="2.2" stroke-linejoin="round" shape-rendering="geometricPrecision"/>
<rect x="654" y="419" width="3" height="6" fill="#5e1010"/>
<rect x="655" y="420" width="1" height="4" fill="#e60000"/>
<rect x="658" y="430" width="3" height="1" fill="#1a4a1a"/>
<rect x="663" y="443" width="3" height="1" fill="#1a4a1a"/>
<rect x="667" y="443" width="3" height="1" fill="#1a4a1a"/>
<rect x="672" y="428" width="3" height="5" fill="#1f5f1f"/>
<rect x="673" y="429" width="1" height="3" fill="#00e400"/>
<rect x="676" y="438" width="3" height="1" fill="#1a4a1a"/>
<rect x="681" y="428" width="1" height="4" fill="#a3cbd3"/>
<rect x="680" y="428" width="3" height="3" fill="#1f5f1f"/>
<rect x="681" y="429" width="1" height="1" fill="#00e400"/>
<rect x="685" y="427" width="3" height="1" fill="#1a4a1a"/>
<rect x="689" y="438" width="3" height="1" fill="#1a4a1a"/>
<rect x="694" y="438" width="3" height="3" fill="#5e1010"/>
<rect x="695" y="439" width="1" height="1" fill="#e60000"/>
<rect x="698" y="430" width="3" height="1" fill="#1a4a1a"/>
<rect x="702" y="427" width="3" height="1" fill="#1a4a1a"/>
<rect x="707" y="422" width="3" height="3" fill="#1f5f1f"/>
<rect x="708" y="423" width="1" height="1" fill="#00e400"/>
<rect x="711" y="432" width="3" height="1" fill="#1a4a1a"/>
<rect x="716" y="432" width="3" height="1" fill="#1a4a1a"/>
<rect x="720" y="440" width="3" height="1" fill="#1a4a1a"/>
<rect x="724" y="435" width="3" height="1" fill="#1a4a1a"/>
<rect x="729" y="435" width="3" height="1" fill="#1a4a1a"/>
<rect x="733" y="443" width="3" height="1" fill="#1a4a1a"/>
<rect x="738" y="428" width="3" height="18" fill="#1f5f1f"/>
<rect x="739" y="429" width="1" height="16" fill="#00e400"/>
<rect x="742" y="428" width="3" height="5" fill="#5e1010"/>
<rect x="743" y="429" width="1" height="3" fill="#e60000"/>
<rect x="746" y="430" width="3" height="1" fill="#1a4a1a"/>
<rect x="751" y="422" width="3" height="6" fill="#1f5f1f"/>
<rect x="752" y="423" width="1" height="4" fill="#00e400"/>
<rect x="755" y="416" width="3" height="6" fill="#1f5f1f"/>
<rect x="756" y="417" width="1" height="4" fill="#00e400"/>
<rect x="761" y="416" width="1" height="19" fill="#f7a1ad"/>
<rect x="760" y="416" width="3" height="17" fill="#5e1010"/>
<rect x="761" y="417" width="1" height="15" fill="#e60000"/>
<rect x="764" y="433" width="3" height="3" fill="#5e1010"/>
<rect x="765" y="434" width="1" height="1" fill="#e60000"/>
<rect x="768" y="430" width="3" height="3" fill="#5e1010"/>
<rect x="769" y="431" width="1" height="1" fill="#e60000"/>
<rect x="773" y="430" width="3" height="6" fill="#5e1010"/>
<rect x="774" y="431" width="1" height="4" fill="#e60000"/>
<rect x="777" y="435" width="3" height="4" fill="#5e1010"/>
<rect x="778" y="436" width="1" height="2" fill="#e60000"/>
<rect x="782" y="443" width="3" height="1" fill="#1a4a1a"/>
<rect x="786" y="443" width="3" height="1" fill="#1a4a1a"/>
<rect x="790" y="441" width="3" height="7" fill="#5e1010"/>
<rect x="791" y="442" width="1" height="5" fill="#e60000"/>
<rect x="795" y="443" width="3" height="1" fill="#1a4a1a"/>
<rect x="799" y="438" width="3" height="3" fill="#1f5f1f"/>
<rect x="800" y="439" width="1" height="1" fill="#00e400"/>
<rect x="805" y="284" width="1" height="53" fill="#a3cbd3"/>
<rect x="804" y="302" width="3" height="28" fill="#1f5f1f"/>
<rect x="805" y="303" width="1" height="26" fill="#00e400"/>
<rect x="809" y="273" width="1" height="32" fill="#a3cbd3"/>
<rect x="808" y="292" width="3" height="13" fill="#1f5f1f"/>
<rect x="809" y="293" width="1" height="11" fill="#00e400"/>
<rect x="813" y="278" width="1" height="19" fill="#a3cbd3"/>
<rect x="812" y="289" width="3" height="8" fill="#1f5f1f"/>
<rect x="813" y="290" width="1" height="6" fill="#00e400"/>
<rect x="817" y="289" width="3" height="1" fill="#1a4a1a"/>
<rect x="821" y="111" width="3" height="179" fill="#1f5f1f"/>
<rect x="822" y="112" width="1" height="177" fill="#00e400"/>
<rect x="827" y="80" width="1" height="132" fill="#f7a1ad"/>
<rect x="826" y="80" width="3" height="130" fill="#5e1010"/>
<rect x="827" y="81" width="1" height="128" fill="#e60000"/>
<rect x="831" y="196" width="1" height="21" fill="#f7a1ad"/>
<rect x="830" y="209" width="3" height="4" fill="#5e1010"/>
<rect x="831" y="210" width="1" height="2" fill="#e60000"/>
<rect x="835" y="122" width="1" height="88" fill="#a3cbd3"/>
<rect x="834" y="151" width="3" height="59" fill="#1f5f1f"/>
<rect x="835" y="152" width="1" height="57" fill="#00e400"/>
<rect x="840" y="154" width="1" height="37" fill="#f7a1ad"/>
<rect x="839" y="154" width="3" height="21" fill="#5e1010"/>
<rect x="840" y="155" width="1" height="19" fill="#e60000"/>
<rect x="844" y="180" width="1" height="20" fill="#f7a1ad"/>
<rect x="843" y="186" width="3" height="14" fill="#5e1010"/>
<rect x="844" y="187" width="1" height="12" fill="#e60000"/>
<rect x="849" y="202" width="1" height="7" fill="#a3cbd3"/>
<rect x="848" y="209" width="3" height="1" fill="#1a4a1a"/>
<rect x="853" y="178" width="1" height="20" fill="#a3cbd3"/>
<rect x="852" y="183" width="3" height="13" fill="#1f5f1f"/>
<rect x="853" y="184" width="1" height="11" fill="#00e400"/>
<rect x="857" y="183" width="1" height="19" fill="#f7a1ad"/>
<rect x="856" y="183" width="3" height="12" fill="#5e1010"/>
<rect x="857" y="184" width="1" height="10" fill="#e60000"/>
<rect x="862" y="178" width="1" height="26" fill="#a3cbd3"/>
<rect x="861" y="180" width="3" height="11" fill="#1f5f1f"/>
<rect x="862" y="181" width="1" height="9" fill="#00e400"/>
<rect x="866" y="170" width="1" height="54" fill="#f7a1ad"/>
<rect x="865" y="180" width="3" height="44" fill="#5e1010"/>
<rect x="866" y="181" width="1" height="42" fill="#e60000"/>
<rect x="871" y="143" width="1" height="77" fill="#a3cbd3"/>
<rect x="870" y="143" width="3" height="65" fill="#1f5f1f"/>
<rect x="871" y="144" width="1" height="63" fill="#00e400"/>
<rect x="875" y="111" width="1" height="67" fill="#a3cbd3"/>
<rect x="874" y="170" width="3" height="6" fill="#1f5f1f"/>
<rect x="875" y="171" width="1" height="4" fill="#00e400"/>
<rect x="879" y="151" width="1" height="43" fill="#a3cbd3"/>
<rect x="878" y="156" width="3" height="25" fill="#1f5f1f"/>
<rect x="879" y="157" width="1" height="23" fill="#00e400"/>
<rect x="884" y="141" width="1" height="15" fill="#a3cbd3"/>
<rect x="883" y="143" width="3" height="13" fill="#1f5f1f"/>
<rect x="884" y="144" width="1" height="11" fill="#00e400"/>
<rect x="888" y="133" width="1" height="76" fill="#f7a1ad"/>
<rect x="887" y="143" width="3" height="54" fill="#5e1010"/>
<rect x="888" y="144" width="1" height="52" fill="#e60000"/>
<rect x="893" y="196" width="1" height="13" fill="#f7a1ad"/>
<rect x="892" y="196" width="3" height="4" fill="#5e1010"/>
<rect x="893" y="197" width="1" height="2" fill="#e60000"/>
<rect x="897" y="172" width="1" height="24" fill="#a3cbd3"/>
<rect x="896" y="188" width="3" height="4" fill="#1f5f1f"/>
<rect x="897" y="189" width="1" height="2" fill="#00e400"/>
<rect x="900" y="188" width="3" height="4" fill="#5e1010"/>
<rect x="901" y="189" width="1" height="2" fill="#e60000"/>
<rect x="906" y="194" width="1" height="15" fill="#a3cbd3"/>
<rect x="905" y="194" width="3" height="3" fill="#1f5f1f"/>
<rect x="906" y="195" width="1" height="1" fill="#00e400"/>
<rect x="909" y="194" width="3" height="3" fill="#5e1010"/>
<rect x="910" y="195" width="1" height="1" fill="#e60000"/>
<rect x="915" y="194" width="1" height="11" fill="#f7a1ad"/>
<rect x="914" y="196" width="3" height="9" fill="#5e1010"/>
<rect x="915" y="197" width="1" height="7" fill="#e60000"/>
<rect x="919" y="194" width="1" height="21" fill="#a3cbd3"/>
<rect x="918" y="202" width="3" height="3" fill="#1f5f1f"/>
<rect x="919" y="203" width="1" height="1" fill="#00e400"/>
<rect x="923" y="199" width="1" height="10" fill="#a3cbd3"/>
<rect x="922" y="209" width="3" height="1" fill="#1a4a1a"/>
<rect x="927" y="204" width="3" height="11" fill="#5e1010"/>
<rect x="928" y="205" width="1" height="9" fill="#e60000"/>
<rect x="932" y="207" width="1" height="21" fill="#f7a1ad"/>
<rect x="931" y="209" width="3" height="12" fill="#5e1010"/>
<rect x="932" y="210" width="1" height="10" fill="#e60000"/>
<rect x="936" y="210" width="3" height="5" fill="#1f5f1f"/>
<rect x="937" y="211" width="1" height="3" fill="#00e400"/>
<rect x="940" y="207" width="3" height="10" fill="#5e1010"/>
<rect x="941" y="208" width="1" height="8" fill="#e60000"/>
<rect x="945" y="204" width="1" height="37" fill="#a3cbd3"/>
<rect x="944" y="215" width="3" height="1" fill="#1a4a1a"/>
<rect x="949" y="212" width="3" height="5" fill="#5e1010"/>
<rect x="950" y="213" width="1" height="3" fill="#e60000"/>
<rect x="953" y="209" width="3" height="15" fill="#1f5f1f"/>
<rect x="954" y="210" width="1" height="13" fill="#00e400"/>
<rect x="958" y="209" width="3" height="4" fill="#5e1010"/>
<rect x="959" y="210" width="1" height="2" fill="#e60000"/>
<rect x="963" y="207" width="1" height="6" fill="#a3cbd3"/>
<rect x="962" y="209" width="3" height="4" fill="#1f5f1f"/>
<rect x="963" y="210" width="1" height="2" fill="#00e400"/>
<rect x="966" y="207" width="3" height="1" fill="#1a4a1a"/>
<rect x="971" y="209" width="3" height="1" fill="#1a4a1a"/>
<rect x="976" y="204" width="1" height="8" fill="#a3cbd3"/>
<rect x="975" y="204" width="3" height="4" fill="#1f5f1f"/>
<rect x="976" y="205" width="1" height="2" fill="#00e400"/>
<rect x="981" y="175" width="1" height="27" fill="#a3cbd3"/>
<rect x="980" y="175" width="3" height="14" fill="#1f5f1f"/>
<rect x="981" y="176" width="1" height="12" fill="#00e400"/>
<rect x="985" y="170" width="1" height="14" fill="#f7a1ad"/>
<rect x="984" y="178" width="3" height="6" fill="#5e1010"/>
<rect x="985" y="179" width="1" height="4" fill="#e60000"/>
<rect x="989" y="180" width="1" height="14" fill="#f7a1ad"/>
<rect x="988" y="180" width="3" height="12" fill="#5e1010"/>
<rect x="989" y="181" width="1" height="10" fill="#e60000"/>
<rect x="993" y="186" width="3" height="3" fill="#1f5f1f"/>
<rect x="994" y="187" width="1" height="1" fill="#00e400"/>
<rect x="997" y="188" width="3" height="7" fill="#5e1010"/>
<rect x="998" y="189" width="1" height="5" fill="#e60000"/>
<rect x="1002" y="202" width="3" height="11" fill="#5e1010"/>
<rect x="1003" y="203" width="1" height="9" fill="#e60000"/>
<rect x="1006" y="199" width="3" height="4" fill="#5e1010"/>
<rect x="1007" y="200" width="1" height="2" fill="#e60000"/>
<rect x="1011" y="207" width="1" height="5" fill="#a3cbd3"/>
<rect x="1010" y="207" width="3" height="1" fill="#1a4a1a"/>
<rect x="1015" y="196" width="3" height="14" fill="#1f5f1f"/>
<rect x="1016" y="197" width="1" height="12" fill="#00e400"/>
<rect x="1020" y="196" width="1" height="16" fill="#f7a1ad"/>
<rect x="1019" y="196" width="3" height="14" fill="#5e1010"/>
<rect x="1020" y="197" width="1" height="12" fill="#e60000"/>
<rect x="1024" y="209" width="3" height="1" fill="#1a4a1a"/>
<rect x="1028" y="204" width="3" height="4" fill="#1f5f1f"/>
<rect x="1029" y="205" width="1" height="2" fill="#00e400"/>
<rect x="1033" y="199" width="1" height="10" fill="#a3cbd3"/>
<rect x="1032" y="199" width="3" height="9" fill="#1f5f1f"/>
<rect x="1033" y="200" width="1" height="7" fill="#00e400"/>
<rect x="1038" y="178" width="1" height="31" fill="#a3cbd3"/>
<rect x="1037" y="178" width="3" height="22" fill="#1f5f1f"/>
<rect x="1038" y="179" width="1" height="20" fill="#00e400"/>
<rect x="1042" y="170" width="1" height="43" fill="#f7a1ad"/>
<rect x="1041" y="178" width="3" height="35" fill="#5e1010"/>
<rect x="1042" y="179" width="1" height="33" fill="#e60000"/>
<rect x="1046" y="204" width="3" height="9" fill="#1f5f1f"/>
<rect x="1047" y="205" width="1" height="7" fill="#00e400"/>
<rect x="1051" y="207" width="1" height="2" fill="#a3cbd3"/>
<rect x="1050" y="209" width="3" height="1" fill="#1a4a1a"/>
<rect x="1054" y="207" width="3" height="3" fill="#1f5f1f"/>
<rect x="1055" y="208" width="1" height="1" fill="#00e400"/>
<rect x="1059" y="207" width="3" height="3" fill="#5e1010"/>
<rect x="1060" y="208" width="1" height="1" fill="#e60000"/>
<rect x="1063" y="204" width="3" height="4" fill="#1f5f1f"/>
<rect x="1064" y="205" width="1" height="2" fill="#00e400"/>
<rect x="1068" y="202" width="3" height="3" fill="#1f5f1f"/>
<rect x="1069" y="203" width="1" height="1" fill="#00e400"/>
<rect x="1073" y="191" width="1" height="16" fill="#a3cbd3"/>
<rect x="1072" y="191" width="3" height="9" fill="#1f5f1f"/>
<rect x="1073" y="192" width="1" height="7" fill="#00e400"/>
<rect x="1077" y="125" width="1" height="69" fill="#a3cbd3"/>
<rect x="1076" y="186" width="3" height="3" fill="#1f5f1f"/>
<rect x="1077" y="187" width="1" height="1" fill="#00e400"/>
<rect x="1081" y="164" width="3" height="25" fill="#5e1010"/>
<rect x="1082" y="165" width="1" height="23" fill="#e60000"/>
<rect x="1086" y="156" width="1" height="25" fill="#a3cbd3"/>
<rect x="1085" y="175" width="3" height="6" fill="#1f5f1f"/>
<rect x="1086" y="176" width="1" height="4" fill="#00e400"/>
<rect x="1090" y="164" width="3" height="4" fill="#5e1010"/>
<rect x="1091" y="165" width="1" height="2" fill="#e60000"/>
<rect x="1095" y="159" width="1" height="9" fill="#a3cbd3"/>
<rect x="1094" y="164" width="3" height="4" fill="#1f5f1f"/>
<rect x="1095" y="165" width="1" height="2" fill="#00e400"/>
<rect x="1099" y="162" width="1" height="16" fill="#f7a1ad"/>
<rect x="1098" y="164" width="3" height="7" fill="#5e1010"/>
<rect x="1099" y="165" width="1" height="5" fill="#e60000"/>
<rect x="1104" y="170" width="1" height="29" fill="#f7a1ad"/>
<rect x="1103" y="170" width="3" height="22" fill="#5e1010"/>
<rect x="1104" y="171" width="1" height="20" fill="#e60000"/>
<rect x="1107" y="204" width="3" height="6" fill="#5e1010"/>
<rect x="1108" y="205" width="1" height="4" fill="#e60000"/>
<rect x="1112" y="183" width="3" height="27" fill="#1f5f1f"/>
<rect x="1113" y="184" width="1" height="25" fill="#00e400"/>
<rect x="1117" y="186" width="1" height="10" fill="#a3cbd3"/>
<rect x="1116" y="186" width="3" height="1" fill="#1a4a1a"/>
<rect x="1121" y="180" width="1" height="14" fill="#f7a1ad"/>
<rect x="1120" y="186" width="3" height="3" fill="#5e1010"/>
<rect x="1121" y="187" width="1" height="1" fill="#e60000"/>
<rect x="1126" y="172" width="1" height="14" fill="#a3cbd3"/>
<rect x="1125" y="186" width="3" height="1" fill="#1a4a1a"/>
<rect x="1130" y="154" width="1" height="35" fill="#a3cbd3"/>
<rect x="1129" y="156" width="3" height="33" fill="#1f5f1f"/>
<rect x="1130" y="157" width="1" height="31" fill="#00e400"/>
<line x1="654" y1="156.5" x2="1243" y2="156.5" stroke="#00e000" stroke-width="1" stroke-dasharray="2 1"/>
<rect x="0" y="471" width="647" height="1" fill="#4a4a4a"/>
<rect x="654" y="471" width="648" height="1" fill="#4a4a4a"/>
<rect x="0" y="604" width="589" height="1" fill="#4a4a4a"/>
<rect x="654" y="604" width="590" height="1" fill="#4a4a4a"/>
<rect x="588" y="36" width="1" height="569" fill="#4a4a4a"/>
<rect x="1243" y="36" width="1" height="569" fill="#4a4a4a"/>
<rect x="38" y="604" width="1" height="4" fill="#4a4a4a"/>
<rect x="137" y="604" width="1" height="4" fill="#4a4a4a"/>
<rect x="236" y="604" width="1" height="4" fill="#4a4a4a"/>
<rect x="340" y="604" width="1" height="4" fill="#4a4a4a"/>
<rect x="439" y="604" width="1" height="4" fill="#4a4a4a"/>
<rect x="538" y="604" width="1" height="4" fill="#4a4a4a"/>
<rect x="704" y="604" width="1" height="4" fill="#4a4a4a"/>
<rect x="806" y="604" width="1" height="4" fill="#4a4a4a"/>
<rect x="933" y="604" width="1" height="4" fill="#4a4a4a"/>
<rect x="1034" y="604" width="1" height="4" fill="#4a4a4a"/>
<rect x="1162" y="604" width="1" height="4" fill="#4a4a4a"/>
<rect x="1241" y="604" width="1" height="4" fill="#4a4a4a"/>
<rect x="589" y="51" width="3" height="1" fill="#4a4a4a"/>
<rect x="589" y="188" width="3" height="1" fill="#4a4a4a"/>
<rect x="589" y="256" width="3" height="1" fill="#4a4a4a"/>
<rect x="589" y="325" width="3" height="1" fill="#4a4a4a"/>
<rect x="589" y="393" width="3" height="1" fill="#4a4a4a"/>
<rect x="589" y="462" width="3" height="1" fill="#4a4a4a"/>
<rect x="589" y="475" width="3" height="1" fill="#4a4a4a"/>
<rect x="589" y="515" width="3" height="1" fill="#4a4a4a"/>
<rect x="589" y="555" width="3" height="1" fill="#4a4a4a"/>
<rect x="589" y="595" width="3" height="1" fill="#4a4a4a"/>
<rect x="1244" y="50" width="3" height="1" fill="#4a4a4a"/>
<rect x="1244" y="103" width="3" height="1" fill="#4a4a4a"/>
<rect x="1244" y="209" width="3" height="1" fill="#4a4a4a"/>
<rect x="1244" y="263" width="3" height="1" fill="#4a4a4a"/>
<rect x="1244" y="316" width="3" height="1" fill="#4a4a4a"/>
<rect x="1244" y="369" width="3" height="1" fill="#4a4a4a"/>
<rect x="1244" y="422" width="3" height="1" fill="#4a4a4a"/>
<rect x="1244" y="497" width="3" height="1" fill="#4a4a4a"/>
<rect x="1244" y="530" width="3" height="1" fill="#4a4a4a"/>
<rect x="1244" y="563" width="3" height="1" fill="#4a4a4a"/>
<rect x="1244" y="595" width="3" height="1" fill="#4a4a4a"/>
<rect x="588" y="112" width="33" height="16" fill="#00e000"/>
<rect x="589" y="120" width="3" height="1" fill="#fff"/>
<rect x="588" y="478" width="48" height="16" fill="#00c400"/>
<rect x="589" y="486" width="3" height="1" fill="#fff"/>
<rect x="588" y="577" width="59" height="16" fill="#000"/>
<rect x="589" y="585" width="3" height="1" fill="#fff"/>
<rect x="1243" y="149" width="33" height="16" fill="#00e000"/>
<rect x="1244" y="157" width="3" height="1" fill="#fff"/>
<rect x="1243" y="548" width="59" height="16" fill="#00c400"/>
<rect x="1244" y="556" width="3" height="1" fill="#fff"/>
<rect x="1243" y="579" width="52" height="16" fill="#000"/>
<rect x="1244" y="587" width="3" height="1" fill="#fff"/>
<text x="595" y="56" font-size="11" fill="#444" font-weight="normal" text-anchor="start" >6.50</text>
<text x="595" y="193" font-size="11" fill="#444" font-weight="normal" text-anchor="start" >5.50</text>
<text x="595" y="261" font-size="11" fill="#444" font-weight="normal" text-anchor="start" >5.00</text>
<text x="595" y="330" font-size="11" fill="#444" font-weight="normal" text-anchor="start" >4.50</text>
<text x="595" y="398" font-size="11" fill="#444" font-weight="normal" text-anchor="start" >4.00</text>
<text x="595" y="467" font-size="11" fill="#444" font-weight="normal" text-anchor="start" >3.50</text>
<clipPath id="cpv"><rect x="589" y="472" width="60" height="132"/></clipPath>
<text x="595" y="480" font-size="11" fill="#444" font-weight="normal" text-anchor="start" clip-path="url(#cpv)">3M</text>
<text x="595" y="520" font-size="11" fill="#444" font-weight="normal" text-anchor="start" clip-path="url(#cpv)">2M</text>
<text x="595" y="560" font-size="11" fill="#444" font-weight="normal" text-anchor="start" clip-path="url(#cpv)">1M</text>
<text x="595" y="600" font-size="11" fill="#444" font-weight="normal" text-anchor="start" clip-path="url(#cpv)">0</text>
<text x="1250" y="55" font-size="11" fill="#444" font-weight="normal" text-anchor="start" >6.40</text>
<text x="1250" y="108" font-size="11" fill="#444" font-weight="normal" text-anchor="start" >6.20</text>
<text x="1250" y="214" font-size="11" fill="#444" font-weight="normal" text-anchor="start" >5.80</text>
<text x="1250" y="268" font-size="11" fill="#444" font-weight="normal" text-anchor="start" >5.60</text>
<text x="1250" y="321" font-size="11" fill="#444" font-weight="normal" text-anchor="start" >5.40</text>
<text x="1250" y="374" font-size="11" fill="#444" font-weight="normal" text-anchor="start" >5.20</text>
<text x="1250" y="427" font-size="11" fill="#444" font-weight="normal" text-anchor="start" >5.00</text>
<text x="1250" y="502" font-size="11" fill="#444" font-weight="normal" text-anchor="start" >300K</text>
<text x="1250" y="535" font-size="11" fill="#444" font-weight="normal" text-anchor="start" >200K</text>
<text x="1250" y="568" font-size="11" fill="#444" font-weight="normal" text-anchor="start" >100K</text>
<text x="1250" y="600" font-size="11" fill="#444" font-weight="normal" text-anchor="start" >0</text>
<text x="595" y="123.7" font-size="11" fill="#fff" font-weight="bold" text-anchor="start" textLength="21.2" lengthAdjust="spacingAndGlyphs">6.00</text>
<text x="595.2" y="489.7" font-size="11" fill="#fff" font-weight="bold" text-anchor="start" textLength="35.9" lengthAdjust="spacingAndGlyphs">2.727M</text>
<text x="595.2" y="588.7" font-size="11" fill="#fff" font-weight="bold" text-anchor="start" textLength="46.4" lengthAdjust="spacingAndGlyphs">292.353K</text>
<text x="1250" y="160.7" font-size="11" fill="#fff" font-weight="bold" text-anchor="start" textLength="21.2" lengthAdjust="spacingAndGlyphs">6.00</text>
<text x="1250.5" y="559.7" font-size="11" fill="#fff" font-weight="bold" text-anchor="start" textLength="46.4" lengthAdjust="spacingAndGlyphs">122.475K</text>
<text x="1250.2" y="590.7" font-size="11" fill="#fff" font-weight="bold" text-anchor="start" textLength="40.7" lengthAdjust="spacingAndGlyphs">29.752K</text>
<text x="38.5" y="619" font-size="11" fill="#555" font-weight="bold" text-anchor="middle" >Mar</text>
<text x="137.5" y="619" font-size="11" fill="#555" font-weight="bold" text-anchor="middle" >Apr</text>
<text x="236.5" y="619" font-size="11" fill="#555" font-weight="bold" text-anchor="middle" >May</text>
<text x="340.5" y="619" font-size="11" fill="#555" font-weight="bold" text-anchor="middle" >Jun</text>
<text x="439.5" y="619" font-size="11" fill="#555" font-weight="bold" text-anchor="middle" >Jul</text>
<text x="538.5" y="619" font-size="11" fill="#555" font-weight="bold" text-anchor="middle" >Aug</text>
<text x="704.5" y="619" font-size="11" fill="#444" font-weight="normal" text-anchor="middle" >13:00</text>
<text x="806.5" y="619" font-size="11" fill="#444" font-weight="bold" text-anchor="middle" >26</text>
<text x="933.5" y="619" font-size="11" fill="#444" font-weight="normal" text-anchor="middle" >12:00</text>
<text x="1034.5" y="619" font-size="11" fill="#444" font-weight="normal" text-anchor="middle" >14:00</text>
<text x="1162.5" y="619" font-size="11" fill="#444" font-weight="normal" text-anchor="middle" >06:00</text>
<text x="1241.5" y="619" font-size="11" fill="#444" font-weight="normal" text-anchor="end" >07:</text>
<polygon points="378.8,53.1 386.0,53.1 382.40000000000003,56.9" fill="#d0d0d0" shape-rendering="geometricPrecision"/>
<rect x="396" y="48" width="14" height="14" fill="#e6e6e6"/>
<rect x="413" y="48" width="14" height="14" fill="#e6e6e6"/>
<path d="M397.7,55 Q399.8,50.7 403,50.7 Q406.2,50.7 408.3,55 Q406.2,59.3 403,59.3 Q399.8,59.3 397.7,55Z" fill="#fff" shape-rendering="geometricPrecision"/><circle cx="403" cy="55" r="2.6" fill="#e6e6e6" shape-rendering="geometricPrecision"/><circle cx="403" cy="55" r="1.05" fill="#fff" shape-rendering="geometricPrecision"/>
<path d="M425.23,54.17 L425.23,55.83 L423.79,55.91 L423.33,57.04 L424.29,58.12 L423.12,59.29 L422.04,58.33 L420.91,58.79 L420.83,60.23 L419.17,60.23 L419.09,58.79 L417.96,58.33 L416.88,59.29 L415.71,58.12 L416.67,57.04 L416.21,55.91 L414.77,55.83 L414.77,54.17 L416.21,54.09 L416.67,52.96 L415.71,51.88 L416.88,50.71 L417.96,51.67 L419.09,51.21 L419.17,49.77 L420.83,49.77 L420.91,51.21 L422.04,51.67 L423.12,50.71 L424.29,51.88 L423.33,52.96 L423.79,54.09Z M421.85,55 A1.85,1.85 0 1 0 418.15,55 A1.85,1.85 0 1 0 421.85,55Z" fill="#fff" fill-rule="evenodd" shape-rendering="geometricPrecision"/>
<circle cx="499" cy="54.2" r="2.9" fill="#b4b4b4" shape-rendering="geometricPrecision"/>
<text x="506.5" y="58" font-size="12" fill="#b4b4b4" stroke="#b4b4b4" stroke-width="0.2" textLength="75" lengthAdjust="spacingAndGlyphs">Market Closed</text>
<polygon points="1030.5,53.1 1037.7,53.1 1034.1,56.9" fill="#bdbdbd" shape-rendering="geometricPrecision"/>
<rect x="1048" y="48" width="14" height="14" fill="#d6d6d6"/>
<rect x="1065" y="48" width="14" height="14" fill="#d6d6d6"/>
<path d="M1049.7,55 Q1051.8,50.7 1055,50.7 Q1058.2,50.7 1060.3,55 Q1058.2,59.3 1055,59.3 Q1051.8,59.3 1049.7,55Z" fill="#fff" shape-rendering="geometricPrecision"/><circle cx="1055" cy="55" r="2.6" fill="#d6d6d6" shape-rendering="geometricPrecision"/><circle cx="1055" cy="55" r="1.05" fill="#fff" shape-rendering="geometricPrecision"/>
<path d="M1077.23,54.17 L1077.23,55.83 L1075.79,55.91 L1075.33,57.04 L1076.29,58.12 L1075.12,59.29 L1074.04,58.33 L1072.91,58.79 L1072.83,60.23 L1071.17,60.23 L1071.09,58.79 L1069.96,58.33 L1068.88,59.29 L1067.71,58.12 L1068.67,57.04 L1068.21,55.91 L1066.77,55.83 L1066.77,54.17 L1068.21,54.09 L1068.67,52.96 L1067.71,51.88 L1068.88,50.71 L1069.96,51.67 L1071.09,51.21 L1071.17,49.77 L1072.83,49.77 L1072.91,51.21 L1074.04,51.67 L1075.12,50.71 L1076.29,51.88 L1075.33,52.96 L1075.79,54.09Z M1073.85,55 A1.85,1.85 0 1 0 1070.15,55 A1.85,1.85 0 1 0 1073.85,55Z" fill="#fff" fill-rule="evenodd" shape-rendering="geometricPrecision"/>
<circle cx="1154" cy="54.2" r="2.9" fill="#8e8e8e" shape-rendering="geometricPrecision"/>
<text x="1161.5" y="58" font-size="12" fill="#8e8e8e" stroke="#8e8e8e" stroke-width="0.2" textLength="75" lengthAdjust="spacingAndGlyphs">Market Closed</text>
<text x="659.5" y="491" font-size="12" fill="#444" stroke="#444" stroke-width="0.2" textLength="64" lengthAdjust="spacingAndGlyphs">Volume (20)</text>
<polygon points="729,485.3 736,485.3 732.5,489" fill="#bdbdbd" shape-rendering="geometricPrecision"/>
<rect x="746" y="480" width="14" height="14" fill="#d6d6d6"/>
<rect x="763" y="480" width="14" height="14" fill="#d6d6d6"/>
<rect x="780" y="480" width="14" height="14" fill="#d6d6d6"/>
<path d="M747.7,487 Q749.8,482.7 753,482.7 Q756.2,482.7 758.3,487 Q756.2,491.3 753,491.3 Q749.8,491.3 747.7,487Z" fill="#fff" shape-rendering="geometricPrecision"/><circle cx="753" cy="487" r="2.6" fill="#d6d6d6" shape-rendering="geometricPrecision"/><circle cx="753" cy="487" r="1.05" fill="#fff" shape-rendering="geometricPrecision"/>
<path d="M775.23,486.17 L775.23,487.83 L773.79,487.91 L773.33,489.04 L774.29,490.12 L773.12,491.29 L772.04,490.33 L770.91,490.79 L770.83,492.23 L769.17,492.23 L769.09,490.79 L767.96,490.33 L766.88,491.29 L765.71,490.12 L766.67,489.04 L766.21,487.91 L764.77,487.83 L764.77,486.17 L766.21,486.09 L766.67,484.96 L765.71,483.88 L766.88,482.71 L767.96,483.67 L769.09,483.21 L769.17,481.77 L770.83,481.77 L770.91,483.21 L772.04,483.67 L773.12,482.71 L774.29,483.88 L773.33,484.96 L773.79,486.09Z M771.85,487 A1.85,1.85 0 1 0 768.15,487 A1.85,1.85 0 1 0 771.85,487Z" fill="#fff" fill-rule="evenodd" shape-rendering="geometricPrecision"/>
<path d="M782.8,482.8 L791.2,491.2 M791.2,482.8 L782.8,491.2" stroke="#fff" stroke-width="1.4" fill="none" shape-rendering="geometricPrecision"/>
<text x="802.6" y="491" font-size="12" fill="#00a800" stroke="#00a800" stroke-width="0.25" textLength="48" lengthAdjust="spacingAndGlyphs">122.475K</text>
<text x="861.6" y="491" font-size="12" fill="#111" stroke="#111" stroke-width="0.2" textLength="42.5" lengthAdjust="spacingAndGlyphs">29.752K</text>
<rect x="5.5" y="48.5" width="12" height="12" rx="2" fill="#fff" stroke="#a8a8a8" stroke-width="1" shape-rendering="geometricPrecision"/>
<rect x="8" y="54" width="7" height="1" fill="#a8a8a8"/>
<text x="24.5" y="60.6" font-size="16" fill="#909090" stroke="#909090" stroke-width="0.35" textLength="348.8" lengthAdjust="spacingAndGlyphs">ADMA Biologics Inc, United States, D, NASDAQ</text>
<text x="5.8" y="80.2" font-size="14" fill="#8e8e8e" stroke="#8e8e8e" stroke-width="0.3" textLength="8.4" lengthAdjust="spacingAndGlyphs">O</text>
<text x="17.7" y="80.2" font-size="14" fill="#5f957a" stroke="#5f957a" stroke-width="0.3" textLength="27.3" lengthAdjust="spacingAndGlyphs">5.35</text>
<text x="55.5" y="80.2" font-size="14" fill="#8e8e8e" stroke="#8e8e8e" stroke-width="0.3" textLength="8.5" lengthAdjust="spacingAndGlyphs">H</text>
<text x="67" y="80.2" font-size="14" fill="#5f957a" stroke="#5f957a" stroke-width="0.3" textLength="28.5" lengthAdjust="spacingAndGlyphs">6.29</text>
<text x="106.5" y="80.2" font-size="14" fill="#8e8e8e" stroke="#8e8e8e" stroke-width="0.3" textLength="6.5" lengthAdjust="spacingAndGlyphs">L</text>
<text x="115.5" y="80.2" font-size="14" fill="#5f957a" stroke="#5f957a" stroke-width="0.3" textLength="27.5" lengthAdjust="spacingAndGlyphs">5.32</text>
<text x="153.7" y="80.2" font-size="14" fill="#8e8e8e" stroke="#8e8e8e" stroke-width="0.3" textLength="8.3" lengthAdjust="spacingAndGlyphs">C</text>
<text x="164.5" y="80.2" font-size="14" fill="#5f957a" stroke="#5f957a" stroke-width="0.3" textLength="27.5" lengthAdjust="spacingAndGlyphs">6.00</text>
<rect x="659.5" y="48.5" width="12" height="12" rx="2" fill="#fff" stroke="#6e6e6e" stroke-width="1" shape-rendering="geometricPrecision"/>
<rect x="662" y="54" width="7" height="1" fill="#6e6e6e"/>
<text x="678.5" y="60.6" font-size="16" fill="#404040" stroke="#404040" stroke-width="0.35" textLength="348.8" lengthAdjust="spacingAndGlyphs">ADMA Biologics Inc, United States, 5, NASDAQ</text>
<text x="659.8" y="80.2" font-size="14" fill="#4a4a4a" stroke="#4a4a4a" stroke-width="0.3" textLength="8.4" lengthAdjust="spacingAndGlyphs">O</text>
<text x="671.7" y="80.2" font-size="14" fill="#0a5c30" stroke="#0a5c30" stroke-width="0.3" textLength="27.3" lengthAdjust="spacingAndGlyphs">5.88</text>
<text x="709.5" y="80.2" font-size="14" fill="#4a4a4a" stroke="#4a4a4a" stroke-width="0.3" textLength="8.5" lengthAdjust="spacingAndGlyphs">H</text>
<text x="721" y="80.2" font-size="14" fill="#0a5c30" stroke="#0a5c30" stroke-width="0.3" textLength="28.5" lengthAdjust="spacingAndGlyphs">6.01</text>
<text x="760.5" y="80.2" font-size="14" fill="#4a4a4a" stroke="#4a4a4a" stroke-width="0.3" textLength="6.5" lengthAdjust="spacingAndGlyphs">L</text>
<text x="769.5" y="80.2" font-size="14" fill="#0a5c30" stroke="#0a5c30" stroke-width="0.3" textLength="27.5" lengthAdjust="spacingAndGlyphs">5.88</text>
<text x="807.7" y="80.2" font-size="14" fill="#4a4a4a" stroke="#4a4a4a" stroke-width="0.3" textLength="8.3" lengthAdjust="spacingAndGlyphs">C</text>
<text x="818.5" y="80.2" font-size="14" fill="#0a5c30" stroke="#0a5c30" stroke-width="0.3" textLength="27.5" lengthAdjust="spacingAndGlyphs">6.00</text>
<text x="13.6" y="455" font-size="20.3" font-weight="bold" fill="#000" stroke="#000" stroke-width="0.9" textLength="4.6" lengthAdjust="spacingAndGlyphs">I</text><text x="18.6" y="455" font-size="23" font-weight="bold" fill="#000" stroke="#000" stroke-width="0.9" textLength="85" lengthAdjust="spacingAndGlyphs">nvestıng</text><text x="103.5" y="455" font-size="14.5" fill="#333" textLength="30" lengthAdjust="spacingAndGlyphs">.com</text><ellipse cx="75.7" cy="440.2" rx="3.1" ry="2" transform="rotate(-42 75.7 440.2)" fill="#fba31c" shape-rendering="geometricPrecision"/>
<text x="667.6" y="455" font-size="20.3" font-weight="bold" fill="#000" stroke="#000" stroke-width="0.9" textLength="4.6" lengthAdjust="spacingAndGlyphs">I</text><text x="672.6" y="455" font-size="23" font-weight="bold" fill="#000" stroke="#000" stroke-width="0.9" textLength="85" lengthAdjust="spacingAndGlyphs">nvestıng</text><text x="757.5" y="455" font-size="14.5" fill="#333" textLength="30" lengthAdjust="spacingAndGlyphs">.com</text><ellipse cx="729.7" cy="440.2" rx="3.1" ry="2" transform="rotate(-42 729.7 440.2)" fill="#fba31c" shape-rendering="geometricPrecision"/>
<circle cx="510.4" cy="219.4" r="7.9" fill="#1e90ff" shape-rendering="geometricPrecision"/><text x="510.4" y="223.2" font-size="10.5" font-weight="bold" fill="#fff" text-anchor="middle">P</text>
<rect x="0" y="0" width="1305" height="35" fill="#f1f3f7"/>
<rect x="0" y="30" width="1305" height="5" fill="#eef0f4"/>
<rect x="-1" y="0" width="345" height="30" fill="#d4d7dc"/>
<rect x="0" y="1" width="343" height="28" fill="#fff"/>
<rect x="99" y="1" width="30" height="28" fill="#f2f3f5"/>
<rect x="98" y="1" width="1" height="28" fill="#d4d7dc"/>
<rect x="129" y="1" width="1" height="28" fill="#d4d7dc"/>
<rect x="167" y="1" width="1" height="28" fill="#d4d7dc"/>
<rect x="205" y="1" width="1" height="28" fill="#d4d7dc"/>
<rect x="244" y="1" width="1" height="28" fill="#d4d7dc"/>
<rect x="283" y="1" width="1" height="28" fill="#d4d7dc"/>
<rect x="322" y="1" width="1" height="28" fill="#d4d7dc"/>
<text x="7" y="19.8" font-size="12.5" fill="#333" font-weight="bold" text-anchor="start" textLength="34.5" lengthAdjust="spacingAndGlyphs">ADMA</text>
<text x="114.3" y="18" font-size="11" fill="#0aa6e2" font-weight="bold" text-anchor="middle" >5</text>
<text x="149.3" y="18" font-size="10.5" fill="#333" font-weight="bold" text-anchor="middle" >15</text>
<text x="187.3" y="18" font-size="10.5" fill="#333" font-weight="bold" text-anchor="middle" >1h</text>
<text x="225.6" y="18" font-size="10.5" fill="#333" font-weight="bold" text-anchor="middle" >1D</text>
<text x="264.7" y="18" font-size="10.5" fill="#333" font-weight="bold" text-anchor="middle" >1M</text>
<text x="303.7" y="18" font-size="10.5" fill="#333" font-weight="bold" text-anchor="middle" >1D</text>
<polygon points="328.2,12.8 335.8,12.8 332,16.8" fill="#333" shape-rendering="geometricPrecision"/>
<rect x="348" y="0" width="151" height="30" fill="#d4d7dc"/>
<rect x="349" y="1" width="149" height="28" fill="#fff"/>
<rect x="349" y="1" width="42" height="28" fill="#f2f3f5"/>
<rect x="391" y="1" width="1" height="28" fill="#d4d7dc"/>
<rect x="434" y="1" width="1" height="28" fill="#d4d7dc"/>
<rect x="477" y="1" width="1" height="28" fill="#d4d7dc"/>
<g shape-rendering="geometricPrecision"><rect x="365.9" y="6" width="1.3" height="18.5" fill="#0aace6"/><rect x="364.4" y="11.6" width="4.2" height="9.8" fill="#f2f3f5" stroke="#0aace6" stroke-width="1.1"/><rect x="372.9" y="4.8" width="1.3" height="19.8" fill="#0aace6"/><rect x="371.1" y="8" width="5" height="12" fill="#0aace6"/></g>
<g shape-rendering="geometricPrecision"><polygon points="404.2,18.4 408,14.4 411,18.4 415.7,12.9 418.6,12.9 421.6,9.8 421.6,21.3 404.2,21.3" fill="#d8d8d8"/><polyline points="404.5,18.1 408,14.4 411,18.4 415.7,12.9 418.6,12.9 421.2,10.1" fill="none" stroke="#727272" stroke-width="1.9" stroke-linejoin="miter"/></g>
<g shape-rendering="geometricPrecision" fill="#6c6c6c"><rect x="450" y="8.2" width="1.8" height="15.6"/><rect x="447" y="20.2" width="3.9" height="1.8"/><rect x="450.9" y="10" width="4" height="1.8"/><rect x="459.1" y="6" width="1.8" height="15.8"/><rect x="456" y="12.9" width="4" height="1.8"/><rect x="460" y="18.2" width="3.9" height="1.8"/></g>
<polygon points="483.4,12.8 491.0,12.8 487.2,16.8" fill="#333" shape-rendering="geometricPrecision"/>
<rect x="503" y="0" width="39" height="30" fill="#d4d7dc"/>
<rect x="504" y="1" width="37" height="28" fill="#fff"/>
<path d="M530.80,13.97 L530.80,16.63 L528.62,16.79 L527.86,18.64 L529.28,20.30 L527.40,22.18 L525.74,20.76 L523.89,21.52 L523.73,23.70 L521.07,23.70 L520.91,21.52 L519.06,20.76 L517.40,22.18 L515.52,20.30 L516.94,18.64 L516.18,16.79 L514.00,16.63 L514.00,13.97 L516.18,13.81 L516.94,11.96 L515.52,10.30 L517.40,8.42 L519.06,9.84 L520.91,9.08 L521.07,6.90 L523.73,6.90 L523.89,9.08 L525.74,9.84 L527.40,8.42 L529.28,10.30 L527.86,11.96 L528.62,13.81Z M525.6999999999999,15.3 A3.3,3.3 0 1 0 519.1,15.3 A3.3,3.3 0 1 0 525.6999999999999,15.3Z" fill="#6c6c6c" fill-rule="evenodd" shape-rendering="geometricPrecision"/>
<rect x="546" y="0" width="43" height="30" fill="#d4d7dc"/>
<rect x="547" y="1" width="41" height="28" fill="#fff"/>
<g shape-rendering="geometricPrecision" fill="#6c6c6c"><rect x="559.0" y="19.2" width="1.8" height="3.6999999999999993"/><rect x="562.1" y="17.2" width="1.8" height="5.699999999999999"/><rect x="565.1" y="19.2" width="1.8" height="3.6999999999999993"/><rect x="568.1" y="15.2" width="1.8" height="7.699999999999999"/><rect x="571.2" y="18.1" width="1.8" height="4.799999999999997"/><rect x="574.1" y="13.2" width="1.8" height="9.7"/><polyline points="559.5,15 562.9,12.7 566,15 569,10.9 571.8,13.8 575.2,8.6" fill="none" stroke="#6c6c6c" stroke-width="1.3" stroke-linejoin="round" stroke-linecap="round"/><circle cx="559.5" cy="15" r="0.9"/><circle cx="562.9" cy="12.7" r="0.9"/><circle cx="566" cy="15" r="0.9"/><circle cx="569" cy="10.9" r="0.9"/><circle cx="571.8" cy="13.8" r="0.9"/><circle cx="575.2" cy="8.6" r="0.9"/></g>
<rect x="593" y="0" width="43" height="30" fill="#d4d7dc"/>
<rect x="594" y="1" width="41" height="28" fill="#fff"/>
<g shape-rendering="geometricPrecision" fill="none" stroke="#6c6c6c" stroke-width="1"><line x1="607" y1="10.4" x2="622" y2="10.4" stroke-width="1.3"/><polygon points="614.4,8.1 612.8,10 616,10" fill="#6c6c6c" stroke="none"/><polyline points="606.5,18.3 609.7,10.6 612.9,18.3"/><polyline points="616.4,18.3 619.6,10.6 622.8,18.3"/><path d="M606,18.3 h7.2 a3.6,3.4 0 0 1 -7.2,0z" fill="#6c6c6c" stroke="none"/><path d="M616,18.3 h7.2 a3.6,3.4 0 0 1 -7.2,0z" fill="#6c6c6c" stroke="none"/></g>
<rect x="640" y="0" width="53" height="30" fill="#d4d7dc"/>
<rect x="641" y="1" width="51" height="28" fill="#fff"/>
<rect x="667" y="1" width="25" height="28" fill="#f2f3f5"/>
<rect x="666" y="1" width="1" height="28" fill="#d4d7dc"/>
<g shape-rendering="geometricPrecision" transform="translate(0,0.6)"><path d="M646.8,14.6 L653.5,10.2 L653.5,13 C658,13 660.6,16 661,20.6 C659.2,17.6 657,16.4 653.5,16.4 L653.5,19 Z" fill="#6c6c6c"/><path d="M686.4,14.6 L679.7,10.2 L679.7,13 C675.2,13 672.6,16 672.2,20.6 C674,17.6 676.2,16.4 679.7,16.4 L679.7,19 Z" fill="#a8a8a8"/></g>
<rect x="698" y="0" width="34" height="30" fill="#d4d7dc"/>
<rect x="699" y="1" width="32" height="28" fill="#fff"/>
<g shape-rendering="geometricPrecision" fill="#777"><path d="M712.8,7.9 C716.4,8.8 717,12.4 717.3,15.4 L717.3,18.9 L716,18.9 L716,20.7 L706,20.7 L706,19.6 C707.4,18.6 708,17.5 708.3,15.4 C708.6,12.4 709.2,8.8 712.8,7.9 Z"/><path d="M710.8,22.3 h4.4 a2.2,1.7 0 0 1 -4.4,0z"/><rect x="716" y="18.9" width="8.1" height="1.9"/><rect x="719" y="16.1" width="1.9" height="7.8"/></g>
<rect x="980" y="0" width="46" height="30" fill="#d4d7dc"/>
<rect x="981" y="1" width="44" height="28" fill="#fff"/>
<g shape-rendering="geometricPrecision"><path d="M994.8,9.6 h3.4 l1.2,-2.4 h6.2 l1.2,2.4 h4.4 a1.6,1.6 0 0 1 1.6,1.6 v9.8 a1.6,1.6 0 0 1 -1.6,1.6 h-16.4 a1.6,1.6 0 0 1 -1.6,-1.6 v-9.8 a1.6,1.6 0 0 1 1.6,-1.6z" fill="#7e7e7e"/><circle cx="1003" cy="16.2" r="4.8" fill="#fff"/><circle cx="1003" cy="16.2" r="2.4" fill="#7e7e7e"/></g>
<rect x="1030" y="0" width="47" height="30" fill="#d4d7dc"/>
<rect x="1031" y="1" width="45" height="28" fill="#fff"/>
<g shape-rendering="geometricPrecision" fill="#e8e8e8" stroke="#707070" stroke-width="1"><rect x="1036.5" y="6.5" width="8" height="16"/><rect x="1046.5" y="6.5" width="8" height="16"/></g>
<polygon points="1063.4,12.8 1071.0,12.8 1067.2,16.8" fill="#333" shape-rendering="geometricPrecision"/>
<rect x="1081" y="0" width="187" height="30" fill="#d4d7dc"/>
<rect x="1082" y="1" width="185" height="28" fill="#fff"/>
<rect x="1187" y="1" width="60" height="28" fill="#e6e6e6"/>
<rect x="1132" y="1" width="1" height="28" fill="#d4d7dc"/>
<rect x="1186" y="1" width="1" height="28" fill="#d4d7dc"/>
<rect x="1247" y="1" width="1" height="28" fill="#d4d7dc"/>
<g shape-rendering="geometricPrecision"><path d="M1102.8,22.6 L1098.8,22.6 C1096.3,22.6 1094.5,20.4 1094.5,17.9 C1094.5,15.2 1096.8,13 1099.9,12.9 C1100.3,9.6 1102.8,7.2 1106.1,7.2 C1108.8,7.2 1110.9,8.5 1111.9,10.6 C1115.0,10.6 1117.0,12.6 1117.0,15.5 C1118.8,16 1119.8,17.4 1119.8,19.2 C1119.8,21.2 1118.3,22.6 1116.3,22.6 L1111.2,22.6" fill="none" stroke="#858585" stroke-width="1.3" stroke-linecap="round"/><path d="M1104.4,14.4 h5.2 v5.1 h2.7 l-5.3,4.7 l-5.3,-4.7 h2.7z" fill="#fff" stroke="#858585" stroke-width="1.2"/></g>
<g shape-rendering="geometricPrecision"><path d="M1153.6,22.6 L1149.6,22.6 C1147.1,22.6 1145.3,20.4 1145.3,17.9 C1145.3,15.2 1147.6,13 1150.7,12.9 C1151.1,9.6 1153.6,7.2 1156.9,7.2 C1159.6,7.2 1161.7,8.5 1162.7,10.6 C1165.8,10.6 1167.8,12.6 1167.8,15.5 C1169.6,16 1170.6,17.4 1170.6,19.2 C1170.6,21.2 1169.1,22.6 1167.1,22.6 L1162.0,22.6" fill="none" stroke="#858585" stroke-width="1.3" stroke-linecap="round"/><path d="M1158.1,13.2 l5.6,5.3 h-2.6 v5.1 h-6.1 v-5.1 h-2.5z" fill="#8a8a8a"/></g>
<text x="1216.7" y="18" font-size="11" fill="#777" font-weight="bold" text-anchor="middle" textLength="23.5" lengthAdjust="spacingAndGlyphs">Main</text>
<polygon points="1254.2,12.8 1261.8,12.8 1258,16.8" fill="#333" shape-rendering="geometricPrecision"/>
<rect x="1272" y="0" width="32" height="30" fill="#d4d7dc"/>
<rect x="1273" y="1" width="30" height="28" fill="#fff"/>
<g shape-rendering="geometricPrecision"><line x1="1285.1" y1="11.85" x2="1281" y2="7.949999999999999" stroke="#777" stroke-width="2"/><polygon points="1279,5.949999999999999 1284.8,5.949999999999999 1279,11.75" fill="#777"/><line x1="1290.9" y1="11.85" x2="1295" y2="7.949999999999999" stroke="#777" stroke-width="2"/><polygon points="1297,5.949999999999999 1291.2,5.949999999999999 1297,11.75" fill="#777"/><line x1="1285.1" y1="18.05" x2="1281" y2="21.95" stroke="#777" stroke-width="2"/><polygon points="1279,23.95 1284.8,23.95 1279,18.15" fill="#777"/><line x1="1290.9" y1="18.05" x2="1295" y2="21.95" stroke="#777" stroke-width="2"/><polygon points="1297,23.95 1291.2,23.95 1297,18.15" fill="#777"/></g>
<rect x="25" y="30" width="1" height="5" fill="#cfd3da"/>
<polygon points="12.4,31.3 10,34 14.8,34" fill="#b9bdc4" shape-rendering="geometricPrecision"/>
<rect x="1299" y="30" width="7" height="337" rx="3.5" fill="#3a3a3a" fill-opacity="0.62" shape-rendering="geometricPrecision"/>
</svg>
</body></html>
